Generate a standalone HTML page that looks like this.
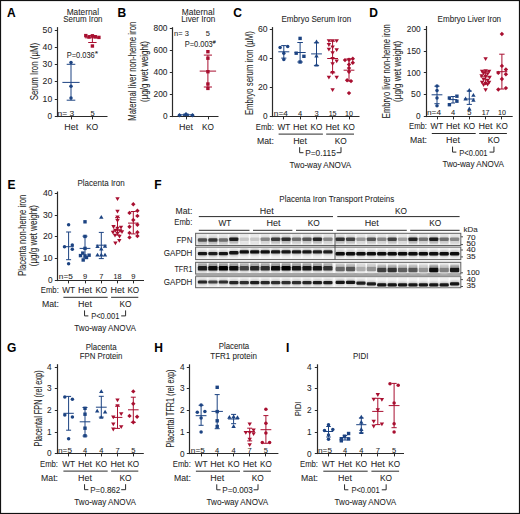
<!DOCTYPE html>
<html><head><meta charset="utf-8"><style>
html,body{margin:0;padding:0;background:#fff;}
svg{display:block;}
text{font-family:"Liberation Sans",sans-serif;font-size:8.5px;fill:#1e1e1e;stroke:#1e1e1e;stroke-width:0.06px;}
</style></head><body>
<svg width="520" height="514" viewBox="0 0 520 514">
<rect x="0.5" y="0.5" width="519" height="513" fill="#fff" stroke="#111" stroke-width="1.2"/>
<text x="7" y="16.7" style="font-weight:bold;font-size:12px;fill:#000;">A</text>
<text x="117.6" y="16.7" style="font-weight:bold;font-size:12px;fill:#000;">B</text>
<text x="233.2" y="17" style="font-weight:bold;font-size:12px;fill:#000;">C</text>
<text x="369.2" y="16.9" style="font-weight:bold;font-size:12px;fill:#000;">D</text>
<text x="7.6" y="188.9" style="font-weight:bold;font-size:12px;fill:#000;">E</text>
<text x="154.3" y="188.8" style="font-weight:bold;font-size:12px;fill:#000;">F</text>
<text x="7" y="352.4" style="font-weight:bold;font-size:12px;fill:#000;">G</text>
<text x="154.2" y="352.3" style="font-weight:bold;font-size:12px;fill:#000;">H</text>
<text x="286" y="352.3" style="font-weight:bold;font-size:12px;fill:#000;">I</text>
<text x="82.9" y="14.6" text-anchor="middle" style="font-size:8.6px;" textLength="32.4" lengthAdjust="spacingAndGlyphs">Maternal</text>
<text x="82.85" y="22.3" text-anchor="middle" style="font-size:8.6px;" textLength="39.3" lengthAdjust="spacingAndGlyphs">Serum Iron</text>
<line x1="57.5" y1="27.1" x2="57.5" y2="117.1" stroke="#2a2a2a" stroke-width="1.2"/>
<line x1="56.9" y1="116.5" x2="107.5" y2="116.5" stroke="#2a2a2a" stroke-width="1.2"/>
<line x1="54.8" y1="116.5" x2="57.5" y2="116.5" stroke="#2a2a2a" stroke-width="1"/>
<text x="52.2" y="118.9" text-anchor="end" style="font-size:8.4px;" textLength="4.6" lengthAdjust="spacingAndGlyphs">0</text>
<line x1="54.8" y1="99.5" x2="57.5" y2="99.5" stroke="#2a2a2a" stroke-width="1"/>
<text x="52.2" y="101.65" text-anchor="end" style="font-size:8.4px;" textLength="9.6" lengthAdjust="spacingAndGlyphs">10</text>
<line x1="54.8" y1="81.5" x2="57.5" y2="81.5" stroke="#2a2a2a" stroke-width="1"/>
<text x="52.2" y="84.4" text-anchor="end" style="font-size:8.4px;" textLength="9.6" lengthAdjust="spacingAndGlyphs">20</text>
<line x1="54.8" y1="64.5" x2="57.5" y2="64.5" stroke="#2a2a2a" stroke-width="1"/>
<text x="52.2" y="67.15" text-anchor="end" style="font-size:8.4px;" textLength="9.6" lengthAdjust="spacingAndGlyphs">30</text>
<line x1="54.8" y1="47.5" x2="57.5" y2="47.5" stroke="#2a2a2a" stroke-width="1"/>
<text x="52.2" y="49.9" text-anchor="end" style="font-size:8.4px;" textLength="9.6" lengthAdjust="spacingAndGlyphs">40</text>
<line x1="54.8" y1="30.5" x2="57.5" y2="30.5" stroke="#2a2a2a" stroke-width="1"/>
<text x="52.2" y="32.65" text-anchor="end" style="font-size:8.4px;" textLength="9.6" lengthAdjust="spacingAndGlyphs">50</text>
<line x1="71.5" y1="116.5" x2="71.5" y2="119.4" stroke="#2a2a2a" stroke-width="1"/>
<line x1="92.5" y1="116.5" x2="92.5" y2="119.4" stroke="#2a2a2a" stroke-width="1"/>
<text transform="translate(37.5,71.6) rotate(-90)" text-anchor="middle" style="font-size:10.2px;" textLength="57.4" lengthAdjust="spacingAndGlyphs">Serum Iron (µM)</text>
<text x="57.6" y="115.6" style="font-size:7.4px;" textLength="16.6" lengthAdjust="spacingAndGlyphs">n= 3</text>
<text x="92.6" y="115.6" text-anchor="middle" style="font-size:7.4px;" textLength="4.2" lengthAdjust="spacingAndGlyphs">5</text>
<text x="71.2" y="129.6" text-anchor="middle" textLength="13.9" lengthAdjust="spacingAndGlyphs">Het</text>
<text x="92.2" y="129.6" text-anchor="middle" textLength="11.9" lengthAdjust="spacingAndGlyphs">KO</text>
<text x="66.7" y="57.7" textLength="28.1" lengthAdjust="spacingAndGlyphs">P=0.036</text>
<text x="94.7" y="56.4" style="font-size:6.5px;" textLength="3.4" lengthAdjust="spacingAndGlyphs">*</text>
<line x1="71" y1="64.3" x2="71" y2="100.2" stroke="#1c4382" stroke-width="1"/>
<line x1="66.7" y1="64.3" x2="75.3" y2="64.3" stroke="#1c4382" stroke-width="1"/>
<line x1="66.7" y1="100.2" x2="75.3" y2="100.2" stroke="#1c4382" stroke-width="1"/>
<line x1="62.4" y1="82.4" x2="79.6" y2="82.4" stroke="#1c4382" stroke-width="1"/>
<circle cx="71" cy="62.6" r="1.75" fill="#1c4382"/>
<circle cx="71" cy="86.2" r="1.75" fill="#1c4382"/>
<circle cx="71" cy="98.1" r="1.75" fill="#1c4382"/>
<line x1="92.4" y1="35.6" x2="92.4" y2="42.5" stroke="#a80f30" stroke-width="1"/>
<line x1="88.2" y1="35.6" x2="96.6" y2="35.6" stroke="#a80f30" stroke-width="1"/>
<line x1="88.2" y1="42.5" x2="96.6" y2="42.5" stroke="#a80f30" stroke-width="1"/>
<line x1="84.9" y1="37.8" x2="99.9" y2="37.8" stroke="#a80f30" stroke-width="1"/>
<rect x="84.1" y="33.9" width="3.4" height="3.4" fill="#a80f30"/>
<rect x="87.3" y="35.3" width="3.4" height="3.4" fill="#a80f30"/>
<rect x="90.7" y="34.1" width="3.4" height="3.4" fill="#a80f30"/>
<rect x="93.7" y="35.1" width="3.4" height="3.4" fill="#a80f30"/>
<rect x="97.2" y="35.7" width="3.4" height="3.4" fill="#a80f30"/>
<rect x="90.7" y="44.3" width="3.4" height="3.4" fill="#a80f30"/>
<text x="198.15" y="14.6" text-anchor="middle" style="font-size:8.6px;" textLength="32.7" lengthAdjust="spacingAndGlyphs">Maternal</text>
<text x="198.25" y="22.3" text-anchor="middle" style="font-size:8.6px;" textLength="33.9" lengthAdjust="spacingAndGlyphs">Liver Iron</text>
<line x1="172.5" y1="27.2" x2="172.5" y2="117.1" stroke="#2a2a2a" stroke-width="1.2"/>
<line x1="171.9" y1="116.5" x2="218.5" y2="116.5" stroke="#2a2a2a" stroke-width="1.2"/>
<line x1="169.8" y1="116.5" x2="172.5" y2="116.5" stroke="#2a2a2a" stroke-width="1"/>
<text x="167.5" y="119" text-anchor="end" style="font-size:8.4px;" textLength="4.6" lengthAdjust="spacingAndGlyphs">0</text>
<line x1="169.8" y1="94.5" x2="172.5" y2="94.5" stroke="#2a2a2a" stroke-width="1"/>
<text x="167.5" y="97.1" text-anchor="end" style="font-size:8.4px;" textLength="13.9" lengthAdjust="spacingAndGlyphs">200</text>
<line x1="169.8" y1="72.5" x2="172.5" y2="72.5" stroke="#2a2a2a" stroke-width="1"/>
<text x="167.5" y="75.2" text-anchor="end" style="font-size:8.4px;" textLength="13.9" lengthAdjust="spacingAndGlyphs">400</text>
<line x1="169.8" y1="50.5" x2="172.5" y2="50.5" stroke="#2a2a2a" stroke-width="1"/>
<text x="167.5" y="53.3" text-anchor="end" style="font-size:8.4px;" textLength="13.9" lengthAdjust="spacingAndGlyphs">600</text>
<line x1="169.8" y1="28.5" x2="172.5" y2="28.5" stroke="#2a2a2a" stroke-width="1"/>
<text x="167.5" y="31.4" text-anchor="end" style="font-size:8.4px;" textLength="13.9" lengthAdjust="spacingAndGlyphs">800</text>
<line x1="186.5" y1="116.5" x2="186.5" y2="119.4" stroke="#2a2a2a" stroke-width="1"/>
<line x1="208.5" y1="116.5" x2="208.5" y2="119.4" stroke="#2a2a2a" stroke-width="1"/>
<text transform="translate(136.1,71.2) rotate(-90)" text-anchor="middle" style="font-size:10.2px;" textLength="99" lengthAdjust="spacingAndGlyphs">Maternal liver non-heme iron</text>
<text transform="translate(147.8,71.6) rotate(-90)" text-anchor="middle" style="font-size:10.2px;" textLength="60.8" lengthAdjust="spacingAndGlyphs">(µg/g wet weight)</text>
<text x="174.1" y="35.9" style="font-size:7.4px;" textLength="14.8" lengthAdjust="spacingAndGlyphs">n= 3</text>
<text x="207.9" y="35.9" text-anchor="middle" style="font-size:7.4px;" textLength="4.2" lengthAdjust="spacingAndGlyphs">5</text>
<text x="184.7" y="46.6" textLength="28" lengthAdjust="spacingAndGlyphs">P=0.003</text>
<text x="212.8" y="43.6" style="font-size:4.6px;" textLength="2.9" lengthAdjust="spacingAndGlyphs">#</text>
<text x="186" y="129.6" text-anchor="middle" textLength="13.9" lengthAdjust="spacingAndGlyphs">Het</text>
<text x="208" y="129.6" text-anchor="middle" textLength="11.9" lengthAdjust="spacingAndGlyphs">KO</text>
<line x1="186" y1="114.2" x2="186" y2="115.4" stroke="#1c4382" stroke-width="1"/>
<line x1="183" y1="114.2" x2="189" y2="114.2" stroke="#1c4382" stroke-width="1"/>
<line x1="183" y1="115.4" x2="189" y2="115.4" stroke="#1c4382" stroke-width="1"/>
<line x1="178" y1="114.8" x2="194" y2="114.8" stroke="#1c4382" stroke-width="1"/>
<path d="M179.5 113L181.7 115.2L179.5 117.4L177.3 115.2Z" fill="#1c4382"/>
<path d="M186 112L188.2 114.2L186 116.4L183.8 114.2Z" fill="#1c4382"/>
<path d="M192.5 113L194.7 115.2L192.5 117.4L190.3 115.2Z" fill="#1c4382"/>
<line x1="207.9" y1="55.1" x2="207.9" y2="87" stroke="#a80f30" stroke-width="1"/>
<line x1="203.8" y1="55.1" x2="212" y2="55.1" stroke="#a80f30" stroke-width="1"/>
<line x1="203.8" y1="87" x2="212" y2="87" stroke="#a80f30" stroke-width="1"/>
<line x1="199.7" y1="71.1" x2="216.1" y2="71.1" stroke="#a80f30" stroke-width="1"/>
<rect x="206.2" y="50" width="3.4" height="3.4" fill="#a80f30"/>
<rect x="206.2" y="56.5" width="3.4" height="3.4" fill="#a80f30"/>
<rect x="206.2" y="70" width="3.4" height="3.4" fill="#a80f30"/>
<rect x="206.2" y="82.3" width="3.4" height="3.4" fill="#a80f30"/>
<rect x="206.2" y="86.7" width="3.4" height="3.4" fill="#a80f30"/>
<text x="316.35" y="22.3" text-anchor="middle" style="font-size:8.6px;" textLength="69.7" lengthAdjust="spacingAndGlyphs">Embryo Serum Iron</text>
<line x1="272.5" y1="27.1" x2="272.5" y2="117.1" stroke="#2a2a2a" stroke-width="1.2"/>
<line x1="271.9" y1="116.5" x2="359.5" y2="116.5" stroke="#2a2a2a" stroke-width="1.2"/>
<line x1="269.8" y1="116.5" x2="272.5" y2="116.5" stroke="#2a2a2a" stroke-width="1"/>
<text x="267.5" y="119.4" text-anchor="end" style="font-size:8.4px;" textLength="4.6" lengthAdjust="spacingAndGlyphs">0</text>
<line x1="269.8" y1="87.5" x2="272.5" y2="87.5" stroke="#2a2a2a" stroke-width="1"/>
<text x="267.5" y="90.33" text-anchor="end" style="font-size:8.4px;" textLength="9.6" lengthAdjust="spacingAndGlyphs">20</text>
<line x1="269.8" y1="58.5" x2="272.5" y2="58.5" stroke="#2a2a2a" stroke-width="1"/>
<text x="267.5" y="61.27" text-anchor="end" style="font-size:8.4px;" textLength="9.6" lengthAdjust="spacingAndGlyphs">40</text>
<line x1="269.8" y1="29.5" x2="272.5" y2="29.5" stroke="#2a2a2a" stroke-width="1"/>
<text x="267.5" y="32.2" text-anchor="end" style="font-size:8.4px;" textLength="9.6" lengthAdjust="spacingAndGlyphs">60</text>
<line x1="283.5" y1="116.5" x2="283.5" y2="119.4" stroke="#2a2a2a" stroke-width="1"/>
<line x1="300.5" y1="116.5" x2="300.5" y2="119.4" stroke="#2a2a2a" stroke-width="1"/>
<line x1="316.5" y1="116.5" x2="316.5" y2="119.4" stroke="#2a2a2a" stroke-width="1"/>
<line x1="332.5" y1="116.5" x2="332.5" y2="119.4" stroke="#2a2a2a" stroke-width="1"/>
<line x1="349.5" y1="116.5" x2="349.5" y2="119.4" stroke="#2a2a2a" stroke-width="1"/>
<text transform="translate(252.7,73.15) rotate(-90)" text-anchor="middle" style="font-size:10.2px;" textLength="83.9" lengthAdjust="spacingAndGlyphs">Embryo serum iron (µM)</text>
<line x1="283.8" y1="45.6" x2="283.8" y2="58.1" stroke="#1c4382" stroke-width="1"/>
<line x1="281.2" y1="45.6" x2="286.4" y2="45.6" stroke="#1c4382" stroke-width="1"/>
<line x1="281.2" y1="58.1" x2="286.4" y2="58.1" stroke="#1c4382" stroke-width="1"/>
<line x1="278.3" y1="51.8" x2="289.3" y2="51.8" stroke="#1c4382" stroke-width="1"/>
<circle cx="280.1" cy="47.6" r="1.75" fill="#1c4382"/>
<circle cx="287.7" cy="46.6" r="1.75" fill="#1c4382"/>
<circle cx="283.8" cy="53.2" r="1.75" fill="#1c4382"/>
<circle cx="283.8" cy="59.5" r="1.75" fill="#1c4382"/>
<line x1="300.1" y1="42.5" x2="300.1" y2="62" stroke="#1c4382" stroke-width="1"/>
<line x1="297.3" y1="42.5" x2="302.9" y2="42.5" stroke="#1c4382" stroke-width="1"/>
<line x1="297.3" y1="62" x2="302.9" y2="62" stroke="#1c4382" stroke-width="1"/>
<line x1="294.5" y1="52.5" x2="305.7" y2="52.5" stroke="#1c4382" stroke-width="1"/>
<rect x="298.4" y="36.7" width="3.4" height="3.4" fill="#1c4382"/>
<rect x="294.5" y="51.5" width="3.4" height="3.4" fill="#1c4382"/>
<rect x="302.2" y="54.6" width="3.4" height="3.4" fill="#1c4382"/>
<rect x="298.4" y="60.3" width="3.4" height="3.4" fill="#1c4382"/>
<line x1="316.5" y1="42.8" x2="316.5" y2="65.4" stroke="#1c4382" stroke-width="1"/>
<line x1="313.9" y1="42.8" x2="319.1" y2="42.8" stroke="#1c4382" stroke-width="1"/>
<line x1="313.9" y1="65.4" x2="319.1" y2="65.4" stroke="#1c4382" stroke-width="1"/>
<line x1="311.1" y1="53.9" x2="321.9" y2="53.9" stroke="#1c4382" stroke-width="1"/>
<path d="M316.5 39.4L318.7 43.18L314.3 43.18Z" fill="#1c4382"/>
<path d="M316.5 53.8L318.7 57.58L314.3 57.58Z" fill="#1c4382"/>
<path d="M316.5 62.8L318.7 66.58L314.3 66.58Z" fill="#1c4382"/>
<line x1="332.6" y1="41.2" x2="332.6" y2="72.8" stroke="#a80f30" stroke-width="1"/>
<line x1="330" y1="41.2" x2="335.2" y2="41.2" stroke="#a80f30" stroke-width="1"/>
<line x1="330" y1="72.8" x2="335.2" y2="72.8" stroke="#a80f30" stroke-width="1"/>
<line x1="327.2" y1="58.5" x2="338" y2="58.5" stroke="#a80f30" stroke-width="1"/>
<path d="M328.9 43L331.11 39.22L326.7 39.22Z" fill="#a80f30"/>
<path d="M332.6 43L334.81 39.22L330.4 39.22Z" fill="#a80f30"/>
<path d="M336.7 43L338.91 39.22L334.5 39.22Z" fill="#a80f30"/>
<path d="M328.9 46.9L331.11 43.12L326.7 43.12Z" fill="#a80f30"/>
<path d="M332.6 49.2L334.81 45.42L330.4 45.42Z" fill="#a80f30"/>
<path d="M328.9 51.6L331.11 47.82L326.7 47.82Z" fill="#a80f30"/>
<path d="M336.7 52L338.91 48.22L334.5 48.22Z" fill="#a80f30"/>
<path d="M332.6 55.1L334.81 51.32L330.4 51.32Z" fill="#a80f30"/>
<path d="M332.6 60.9L334.81 57.12L330.4 57.12Z" fill="#a80f30"/>
<path d="M336.7 63.2L338.91 59.42L334.5 59.42Z" fill="#a80f30"/>
<path d="M332.6 66L334.81 62.22L330.4 62.22Z" fill="#a80f30"/>
<path d="M332.6 74.9L334.81 71.12L330.4 71.12Z" fill="#a80f30"/>
<path d="M328.9 79.6L331.11 75.82L326.7 75.82Z" fill="#a80f30"/>
<path d="M336.7 79.6L338.91 75.82L334.5 75.82Z" fill="#a80f30"/>
<path d="M332.6 92L334.81 88.22L330.4 88.22Z" fill="#a80f30"/>
<line x1="349" y1="58.8" x2="349" y2="81" stroke="#a80f30" stroke-width="1"/>
<line x1="346.4" y1="58.8" x2="351.6" y2="58.8" stroke="#a80f30" stroke-width="1"/>
<line x1="346.4" y1="81" x2="351.6" y2="81" stroke="#a80f30" stroke-width="1"/>
<line x1="343.6" y1="70.2" x2="354.4" y2="70.2" stroke="#a80f30" stroke-width="1"/>
<path d="M345 57.9L347.2 60.1L345 62.3L342.8 60.1Z" fill="#a80f30"/>
<path d="M349 57.6L351.2 59.8L349 62L346.8 59.8Z" fill="#a80f30"/>
<path d="M352.8 56.5L355 58.7L352.8 60.9L350.6 58.7Z" fill="#a80f30"/>
<path d="M352.8 60.6L355 62.8L352.8 65L350.6 62.8Z" fill="#a80f30"/>
<path d="M349 62.3L351.2 64.5L349 66.7L346.8 64.5Z" fill="#a80f30"/>
<path d="M349 65.9L351.2 68.1L349 70.3L346.8 68.1Z" fill="#a80f30"/>
<path d="M349 69.5L351.2 71.7L349 73.9L346.8 71.7Z" fill="#a80f30"/>
<path d="M347.1 78.1L349.3 80.3L347.1 82.5L344.9 80.3Z" fill="#a80f30"/>
<path d="M351 78.9L353.2 81.1L351 83.3L348.8 81.1Z" fill="#a80f30"/>
<path d="M349 90.9L351.2 93.1L349 95.3L346.8 93.1Z" fill="#a80f30"/>
<text x="273.8" y="115.8" style="font-size:7.4px;" textLength="14" lengthAdjust="spacingAndGlyphs">n=4</text>
<text x="300.1" y="115.8" text-anchor="middle" style="font-size:7.4px;" textLength="4.2" lengthAdjust="spacingAndGlyphs">4</text>
<text x="316.5" y="115.8" text-anchor="middle" style="font-size:7.4px;" textLength="4.2" lengthAdjust="spacingAndGlyphs">3</text>
<text x="332.6" y="115.8" text-anchor="middle" style="font-size:7.4px;" textLength="7.9" lengthAdjust="spacingAndGlyphs">15</text>
<text x="349" y="115.8" text-anchor="middle" style="font-size:7.4px;" textLength="7.9" lengthAdjust="spacingAndGlyphs">10</text>
<text x="273.8" y="129.8" text-anchor="end" textLength="18" lengthAdjust="spacingAndGlyphs">Emb:</text>
<text x="283.8" y="129.8" text-anchor="middle" textLength="12.8" lengthAdjust="spacingAndGlyphs">WT</text>
<text x="300.1" y="129.8" text-anchor="middle" textLength="14" lengthAdjust="spacingAndGlyphs">Het</text>
<text x="316.5" y="129.8" text-anchor="middle" textLength="11.8" lengthAdjust="spacingAndGlyphs">KO</text>
<text x="332.6" y="129.8" text-anchor="middle" textLength="14" lengthAdjust="spacingAndGlyphs">Het</text>
<text x="349" y="129.8" text-anchor="middle" textLength="11.8" lengthAdjust="spacingAndGlyphs">KO</text>
<line x1="278.6" y1="134.1" x2="322.9" y2="134.1" stroke="#2a2a2a" stroke-width="1"/>
<line x1="326.2" y1="134.1" x2="354" y2="134.1" stroke="#2a2a2a" stroke-width="1"/>
<text x="273.8" y="143.8" text-anchor="end" textLength="16.9" lengthAdjust="spacingAndGlyphs">Mat:</text>
<text x="300.1" y="143.8" text-anchor="middle" textLength="13.9" lengthAdjust="spacingAndGlyphs">Het</text>
<text x="340.8" y="143.8" text-anchor="middle" textLength="12" lengthAdjust="spacingAndGlyphs">KO</text>
<polyline points="299.65,147.2 299.65,152.7 303.45,152.7" fill="none" stroke="#2a2a2a" stroke-width="1"/>
<polyline points="336.6,152.7 341,152.7 341,147.2" fill="none" stroke="#2a2a2a" stroke-width="1"/>
<text x="320.53" y="156.2" text-anchor="middle" textLength="30.6" lengthAdjust="spacingAndGlyphs">P=0.115</text>
<text x="320.33" y="167.9" text-anchor="middle" textLength="61.6" lengthAdjust="spacingAndGlyphs">Two-way ANOVA</text>
<text x="469.35" y="22.3" text-anchor="middle" style="font-size:8.6px;" textLength="63.5" lengthAdjust="spacingAndGlyphs">Embryo Liver Iron</text>
<line x1="426.5" y1="26" x2="426.5" y2="117.1" stroke="#2a2a2a" stroke-width="1.2"/>
<line x1="425.9" y1="116.5" x2="512.7" y2="116.5" stroke="#2a2a2a" stroke-width="1.2"/>
<line x1="423.8" y1="116.5" x2="426.5" y2="116.5" stroke="#2a2a2a" stroke-width="1"/>
<text x="420.7" y="118.8" text-anchor="end" style="font-size:8.4px;" textLength="4.6" lengthAdjust="spacingAndGlyphs">0</text>
<line x1="423.8" y1="94.5" x2="426.5" y2="94.5" stroke="#2a2a2a" stroke-width="1"/>
<text x="420.7" y="97.17" text-anchor="end" style="font-size:8.4px;" textLength="9.6" lengthAdjust="spacingAndGlyphs">50</text>
<line x1="423.8" y1="72.5" x2="426.5" y2="72.5" stroke="#2a2a2a" stroke-width="1"/>
<text x="420.7" y="75.55" text-anchor="end" style="font-size:8.4px;" textLength="13.9" lengthAdjust="spacingAndGlyphs">100</text>
<line x1="423.8" y1="51.5" x2="426.5" y2="51.5" stroke="#2a2a2a" stroke-width="1"/>
<text x="420.7" y="53.93" text-anchor="end" style="font-size:8.4px;" textLength="13.9" lengthAdjust="spacingAndGlyphs">150</text>
<line x1="423.8" y1="29.5" x2="426.5" y2="29.5" stroke="#2a2a2a" stroke-width="1"/>
<text x="420.7" y="32.3" text-anchor="end" style="font-size:8.4px;" textLength="13.9" lengthAdjust="spacingAndGlyphs">200</text>
<line x1="437.5" y1="116.5" x2="437.5" y2="119.4" stroke="#2a2a2a" stroke-width="1"/>
<line x1="453.5" y1="116.5" x2="453.5" y2="119.4" stroke="#2a2a2a" stroke-width="1"/>
<line x1="469.5" y1="116.5" x2="469.5" y2="119.4" stroke="#2a2a2a" stroke-width="1"/>
<line x1="485.5" y1="116.5" x2="485.5" y2="119.4" stroke="#2a2a2a" stroke-width="1"/>
<line x1="501.5" y1="116.5" x2="501.5" y2="119.4" stroke="#2a2a2a" stroke-width="1"/>
<text transform="translate(389.7,71.2) rotate(-90)" text-anchor="middle" style="font-size:10.2px;" textLength="94" lengthAdjust="spacingAndGlyphs">Embryo liver non-heme iron</text>
<text transform="translate(401.2,71.4) rotate(-90)" text-anchor="middle" style="font-size:10.2px;" textLength="61" lengthAdjust="spacingAndGlyphs">(µg/g wet weight)</text>
<line x1="437" y1="86.2" x2="437" y2="103.7" stroke="#1c4382" stroke-width="1"/>
<line x1="434.4" y1="86.2" x2="439.6" y2="86.2" stroke="#1c4382" stroke-width="1"/>
<line x1="434.4" y1="103.7" x2="439.6" y2="103.7" stroke="#1c4382" stroke-width="1"/>
<line x1="431.6" y1="94.8" x2="442.4" y2="94.8" stroke="#1c4382" stroke-width="1"/>
<circle cx="437" cy="85.9" r="1.75" fill="#1c4382"/>
<circle cx="437" cy="90.5" r="1.75" fill="#1c4382"/>
<circle cx="437" cy="98" r="1.75" fill="#1c4382"/>
<circle cx="437" cy="105.8" r="1.75" fill="#1c4382"/>
<line x1="453" y1="96.5" x2="453" y2="103" stroke="#1c4382" stroke-width="1"/>
<line x1="451" y1="96.5" x2="455" y2="96.5" stroke="#1c4382" stroke-width="1"/>
<line x1="451" y1="103" x2="455" y2="103" stroke="#1c4382" stroke-width="1"/>
<line x1="448.8" y1="99.6" x2="457.2" y2="99.6" stroke="#1c4382" stroke-width="1"/>
<rect x="447.7" y="96.3" width="3.4" height="3.4" fill="#1c4382"/>
<rect x="447.7" y="103" width="3.4" height="3.4" fill="#1c4382"/>
<rect x="455.2" y="94.5" width="3.4" height="3.4" fill="#1c4382"/>
<rect x="455.2" y="99.5" width="3.4" height="3.4" fill="#1c4382"/>
<line x1="469.3" y1="91" x2="469.3" y2="104.4" stroke="#1c4382" stroke-width="1"/>
<line x1="466.7" y1="91" x2="471.9" y2="91" stroke="#1c4382" stroke-width="1"/>
<line x1="466.7" y1="104.4" x2="471.9" y2="104.4" stroke="#1c4382" stroke-width="1"/>
<line x1="463.9" y1="99" x2="474.7" y2="99" stroke="#1c4382" stroke-width="1"/>
<path d="M469.3 87.9L471.5 91.68L467.1 91.68Z" fill="#1c4382"/>
<path d="M473.4 93L475.61 96.78L471.2 96.78Z" fill="#1c4382"/>
<path d="M465.6 96.6L467.81 100.38L463.4 100.38Z" fill="#1c4382"/>
<path d="M473.4 98L475.61 101.78L471.2 101.78Z" fill="#1c4382"/>
<path d="M469.3 106.6L471.5 110.38L467.1 110.38Z" fill="#1c4382"/>
<line x1="485.6" y1="71.3" x2="485.6" y2="84" stroke="#a80f30" stroke-width="1"/>
<line x1="483" y1="71.3" x2="488.2" y2="71.3" stroke="#a80f30" stroke-width="1"/>
<line x1="483" y1="84" x2="488.2" y2="84" stroke="#a80f30" stroke-width="1"/>
<line x1="480.2" y1="76.8" x2="491" y2="76.8" stroke="#a80f30" stroke-width="1"/>
<path d="M485.6 61L487.81 57.22L483.4 57.22Z" fill="#a80f30"/>
<path d="M482.1 73.6L484.31 69.82L479.9 69.82Z" fill="#a80f30"/>
<path d="M485.6 73.1L487.81 69.32L483.4 69.32Z" fill="#a80f30"/>
<path d="M489.1 73.6L491.31 69.82L486.9 69.82Z" fill="#a80f30"/>
<path d="M483.6 75.6L485.81 71.82L481.4 71.82Z" fill="#a80f30"/>
<path d="M487.6 76.1L489.81 72.32L485.4 72.32Z" fill="#a80f30"/>
<path d="M481.6 78.1L483.81 74.32L479.4 74.32Z" fill="#a80f30"/>
<path d="M485.6 78.6L487.81 74.82L483.4 74.82Z" fill="#a80f30"/>
<path d="M489.6 79.6L491.81 75.82L487.4 75.82Z" fill="#a80f30"/>
<path d="M483.6 81.6L485.81 77.82L481.4 77.82Z" fill="#a80f30"/>
<path d="M487.6 82.6L489.81 78.82L485.4 78.82Z" fill="#a80f30"/>
<path d="M482.1 84.6L484.31 80.82L479.9 80.82Z" fill="#a80f30"/>
<path d="M485.6 85.6L487.81 81.82L483.4 81.82Z" fill="#a80f30"/>
<path d="M489.1 84.6L491.31 80.82L486.9 80.82Z" fill="#a80f30"/>
<path d="M483.6 87.1L485.81 83.32L481.4 83.32Z" fill="#a80f30"/>
<path d="M487.6 86.6L489.81 82.82L485.4 82.82Z" fill="#a80f30"/>
<path d="M485.6 92.1L487.81 88.32L483.4 88.32Z" fill="#a80f30"/>
<line x1="501.9" y1="54.2" x2="501.9" y2="89" stroke="#a80f30" stroke-width="1"/>
<line x1="499.2" y1="54.2" x2="504.6" y2="54.2" stroke="#a80f30" stroke-width="1"/>
<line x1="499.2" y1="89" x2="504.6" y2="89" stroke="#a80f30" stroke-width="1"/>
<line x1="496.5" y1="71.7" x2="507.3" y2="71.7" stroke="#a80f30" stroke-width="1"/>
<path d="M501.9 31.8L504.1 34L501.9 36.2L499.7 34Z" fill="#a80f30"/>
<path d="M501.9 63.7L504.1 65.9L501.9 68.1L499.7 65.9Z" fill="#a80f30"/>
<path d="M505.9 67.3L508.1 69.5L505.9 71.7L503.7 69.5Z" fill="#a80f30"/>
<path d="M498.3 70.7L500.5 72.9L498.3 75.1L496.1 72.9Z" fill="#a80f30"/>
<path d="M505.9 72.1L508.1 74.3L505.9 76.5L503.7 74.3Z" fill="#a80f30"/>
<path d="M501.9 76.8L504.1 79L501.9 81.2L499.7 79Z" fill="#a80f30"/>
<path d="M498.3 87.3L500.5 89.5L498.3 91.7L496.1 89.5Z" fill="#a80f30"/>
<path d="M505.9 85.9L508.1 88.1L505.9 90.3L503.7 88.1Z" fill="#a80f30"/>
<text x="427" y="115.2" style="font-size:7.4px;" textLength="14" lengthAdjust="spacingAndGlyphs">n=4</text>
<text x="453" y="115.2" text-anchor="middle" style="font-size:7.4px;" textLength="4.2" lengthAdjust="spacingAndGlyphs">4</text>
<text x="469.3" y="115.2" text-anchor="middle" style="font-size:7.4px;" textLength="4.2" lengthAdjust="spacingAndGlyphs">5</text>
<text x="485.6" y="115.2" text-anchor="middle" style="font-size:7.4px;" textLength="7.9" lengthAdjust="spacingAndGlyphs">17</text>
<text x="501.9" y="115.2" text-anchor="middle" style="font-size:7.4px;" textLength="7.9" lengthAdjust="spacingAndGlyphs">10</text>
<text x="427" y="129.2" text-anchor="end" textLength="18" lengthAdjust="spacingAndGlyphs">Emb:</text>
<text x="437" y="129.2" text-anchor="middle" textLength="12.8" lengthAdjust="spacingAndGlyphs">WT</text>
<text x="453" y="129.2" text-anchor="middle" textLength="14" lengthAdjust="spacingAndGlyphs">Het</text>
<text x="469.3" y="129.2" text-anchor="middle" textLength="11.8" lengthAdjust="spacingAndGlyphs">KO</text>
<text x="485.6" y="129.2" text-anchor="middle" textLength="14" lengthAdjust="spacingAndGlyphs">Het</text>
<text x="501.9" y="129.2" text-anchor="middle" textLength="11.8" lengthAdjust="spacingAndGlyphs">KO</text>
<line x1="431.8" y1="133.5" x2="475.7" y2="133.5" stroke="#2a2a2a" stroke-width="1"/>
<line x1="479.2" y1="133.5" x2="506.9" y2="133.5" stroke="#2a2a2a" stroke-width="1"/>
<text x="427" y="143.2" text-anchor="end" textLength="16.9" lengthAdjust="spacingAndGlyphs">Mat:</text>
<text x="453" y="143.2" text-anchor="middle" textLength="13.9" lengthAdjust="spacingAndGlyphs">Het</text>
<text x="493.75" y="143.2" text-anchor="middle" textLength="12" lengthAdjust="spacingAndGlyphs">KO</text>
<polyline points="452.55,146.6 452.55,152.1 456.35,152.1" fill="none" stroke="#2a2a2a" stroke-width="1"/>
<polyline points="489.55,152.1 493.95,152.1 493.95,146.6" fill="none" stroke="#2a2a2a" stroke-width="1"/>
<text x="473.45" y="155.6" text-anchor="middle" textLength="28.2" lengthAdjust="spacingAndGlyphs">P&lt;0.001</text>
<text x="473.25" y="167.3" text-anchor="middle" textLength="61.6" lengthAdjust="spacingAndGlyphs">Two-way ANOVA</text>
<text x="101.1" y="185.6" text-anchor="middle" style="font-size:8.6px;" textLength="47.2" lengthAdjust="spacingAndGlyphs">Placenta Iron</text>
<line x1="57.5" y1="191.5" x2="57.5" y2="281.1" stroke="#2a2a2a" stroke-width="1.2"/>
<line x1="56.9" y1="280.5" x2="144" y2="280.5" stroke="#2a2a2a" stroke-width="1.2"/>
<line x1="54.8" y1="280.5" x2="57.5" y2="280.5" stroke="#2a2a2a" stroke-width="1"/>
<text x="52.5" y="282.6" text-anchor="end" style="font-size:8.4px;" textLength="4.6" lengthAdjust="spacingAndGlyphs">0</text>
<line x1="54.8" y1="258.5" x2="57.5" y2="258.5" stroke="#2a2a2a" stroke-width="1"/>
<text x="52.5" y="260.98" text-anchor="end" style="font-size:8.4px;" textLength="9.6" lengthAdjust="spacingAndGlyphs">10</text>
<line x1="54.8" y1="236.5" x2="57.5" y2="236.5" stroke="#2a2a2a" stroke-width="1"/>
<text x="52.5" y="239.35" text-anchor="end" style="font-size:8.4px;" textLength="9.6" lengthAdjust="spacingAndGlyphs">20</text>
<line x1="54.8" y1="215.5" x2="57.5" y2="215.5" stroke="#2a2a2a" stroke-width="1"/>
<text x="52.5" y="217.72" text-anchor="end" style="font-size:8.4px;" textLength="9.6" lengthAdjust="spacingAndGlyphs">30</text>
<line x1="54.8" y1="193.5" x2="57.5" y2="193.5" stroke="#2a2a2a" stroke-width="1"/>
<text x="52.5" y="196.1" text-anchor="end" style="font-size:8.4px;" textLength="9.6" lengthAdjust="spacingAndGlyphs">40</text>
<line x1="68.5" y1="280.5" x2="68.5" y2="283.4" stroke="#2a2a2a" stroke-width="1"/>
<line x1="85.5" y1="280.5" x2="85.5" y2="283.4" stroke="#2a2a2a" stroke-width="1"/>
<line x1="101.5" y1="280.5" x2="101.5" y2="283.4" stroke="#2a2a2a" stroke-width="1"/>
<line x1="117.5" y1="280.5" x2="117.5" y2="283.4" stroke="#2a2a2a" stroke-width="1"/>
<line x1="133.5" y1="280.5" x2="133.5" y2="283.4" stroke="#2a2a2a" stroke-width="1"/>
<text transform="translate(26,235.3) rotate(-90)" text-anchor="middle" style="font-size:10.2px;" textLength="81" lengthAdjust="spacingAndGlyphs">Placenta non-heme iron</text>
<text transform="translate(37.3,235.65) rotate(-90)" text-anchor="middle" style="font-size:10.2px;" textLength="61.3" lengthAdjust="spacingAndGlyphs">(µg/g wet weight)</text>
<line x1="68.6" y1="232" x2="68.6" y2="259.7" stroke="#1c4382" stroke-width="1"/>
<line x1="66.1" y1="232" x2="71.1" y2="232" stroke="#1c4382" stroke-width="1"/>
<line x1="66.1" y1="259.7" x2="71.1" y2="259.7" stroke="#1c4382" stroke-width="1"/>
<line x1="63.4" y1="246.7" x2="73.8" y2="246.7" stroke="#1c4382" stroke-width="1"/>
<circle cx="68.6" cy="224.8" r="1.75" fill="#1c4382"/>
<circle cx="64.5" cy="246.7" r="1.75" fill="#1c4382"/>
<circle cx="72.3" cy="245" r="1.75" fill="#1c4382"/>
<circle cx="72.3" cy="249.3" r="1.75" fill="#1c4382"/>
<circle cx="68.6" cy="263.8" r="1.75" fill="#1c4382"/>
<line x1="85" y1="236.2" x2="85" y2="258" stroke="#1c4382" stroke-width="1"/>
<line x1="82.5" y1="236.2" x2="87.5" y2="236.2" stroke="#1c4382" stroke-width="1"/>
<line x1="82.5" y1="258" x2="87.5" y2="258" stroke="#1c4382" stroke-width="1"/>
<line x1="79.6" y1="248.4" x2="90.4" y2="248.4" stroke="#1c4382" stroke-width="1"/>
<rect x="83.3" y="220.1" width="3.4" height="3.4" fill="#1c4382"/>
<rect x="83.3" y="234.7" width="3.4" height="3.4" fill="#1c4382"/>
<rect x="83.3" y="246.7" width="3.4" height="3.4" fill="#1c4382"/>
<rect x="81.1" y="251.4" width="3.4" height="3.4" fill="#1c4382"/>
<rect x="78.8" y="253.9" width="3.4" height="3.4" fill="#1c4382"/>
<rect x="87.4" y="253.5" width="3.4" height="3.4" fill="#1c4382"/>
<rect x="83.3" y="254.2" width="3.4" height="3.4" fill="#1c4382"/>
<rect x="81.5" y="258.3" width="3.4" height="3.4" fill="#1c4382"/>
<rect x="84.8" y="255.8" width="3.4" height="3.4" fill="#1c4382"/>
<line x1="101.3" y1="232.4" x2="101.3" y2="258.6" stroke="#1c4382" stroke-width="1"/>
<line x1="98.8" y1="232.4" x2="103.8" y2="232.4" stroke="#1c4382" stroke-width="1"/>
<line x1="98.8" y1="258.6" x2="103.8" y2="258.6" stroke="#1c4382" stroke-width="1"/>
<line x1="95.9" y1="245.2" x2="106.7" y2="245.2" stroke="#1c4382" stroke-width="1"/>
<path d="M101.3 214.9L103.5 218.68L99.09 218.68Z" fill="#1c4382"/>
<path d="M97.5 244.2L99.7 247.98L95.3 247.98Z" fill="#1c4382"/>
<path d="M105 243.9L107.2 247.68L102.8 247.68Z" fill="#1c4382"/>
<path d="M101.3 246.7L103.5 250.48L99.09 250.48Z" fill="#1c4382"/>
<path d="M97.5 252.7L99.7 256.48L95.3 256.48Z" fill="#1c4382"/>
<path d="M101.3 252.7L103.5 256.48L99.09 256.48Z" fill="#1c4382"/>
<path d="M105 252.7L107.2 256.48L102.8 256.48Z" fill="#1c4382"/>
<line x1="117.5" y1="217.7" x2="117.5" y2="235" stroke="#a80f30" stroke-width="1"/>
<line x1="115" y1="217.7" x2="120" y2="217.7" stroke="#a80f30" stroke-width="1"/>
<line x1="115" y1="235" x2="120" y2="235" stroke="#a80f30" stroke-width="1"/>
<line x1="112.8" y1="230.2" x2="122.2" y2="230.2" stroke="#a80f30" stroke-width="1"/>
<path d="M117.5 201L119.7 197.22L115.3 197.22Z" fill="#a80f30"/>
<path d="M117.5 213.6L119.7 209.82L115.3 209.82Z" fill="#a80f30"/>
<path d="M117.5 219.3L119.7 215.52L115.3 215.52Z" fill="#a80f30"/>
<path d="M117.5 222.8L119.7 219.02L115.3 219.02Z" fill="#a80f30"/>
<path d="M113.5 228.9L115.7 225.12L111.3 225.12Z" fill="#a80f30"/>
<path d="M121 229.6L123.2 225.82L118.8 225.82Z" fill="#a80f30"/>
<path d="M117.5 230.6L119.7 226.82L115.3 226.82Z" fill="#a80f30"/>
<path d="M115.5 232.6L117.7 228.82L113.3 228.82Z" fill="#a80f30"/>
<path d="M120 233.1L122.2 229.32L117.8 229.32Z" fill="#a80f30"/>
<path d="M113 234.6L115.2 230.82L110.8 230.82Z" fill="#a80f30"/>
<path d="M122 234.1L124.2 230.32L119.8 230.32Z" fill="#a80f30"/>
<path d="M117.5 235.6L119.7 231.82L115.3 231.82Z" fill="#a80f30"/>
<path d="M115 237.6L117.2 233.82L112.8 233.82Z" fill="#a80f30"/>
<path d="M119.5 238.6L121.7 234.82L117.3 234.82Z" fill="#a80f30"/>
<path d="M115.4 245.2L117.61 241.42L113.2 241.42Z" fill="#a80f30"/>
<path d="M119.3 242.8L121.5 239.02L117.09 239.02Z" fill="#a80f30"/>
<line x1="133.3" y1="211.5" x2="133.3" y2="233.9" stroke="#a80f30" stroke-width="1"/>
<line x1="130.8" y1="211.5" x2="135.8" y2="211.5" stroke="#a80f30" stroke-width="1"/>
<line x1="130.8" y1="233.9" x2="135.8" y2="233.9" stroke="#a80f30" stroke-width="1"/>
<line x1="128" y1="223.1" x2="138.6" y2="223.1" stroke="#a80f30" stroke-width="1"/>
<path d="M133.3 202.1L135.5 204.3L133.3 206.5L131.1 204.3Z" fill="#a80f30"/>
<path d="M137.4 208.5L139.6 210.7L137.4 212.9L135.2 210.7Z" fill="#a80f30"/>
<path d="M129.5 210.7L131.7 212.9L129.5 215.1L127.3 212.9Z" fill="#a80f30"/>
<path d="M137.4 213.7L139.6 215.9L137.4 218.1L135.2 215.9Z" fill="#a80f30"/>
<path d="M133.3 217.8L135.5 220L133.3 222.2L131.1 220Z" fill="#a80f30"/>
<path d="M137.4 222.5L139.6 224.7L137.4 226.9L135.2 224.7Z" fill="#a80f30"/>
<path d="M129.5 224.6L131.7 226.8L129.5 229L127.3 226.8Z" fill="#a80f30"/>
<path d="M129.5 230.7L131.7 232.9L129.5 235.1L127.3 232.9Z" fill="#a80f30"/>
<path d="M137.4 230L139.6 232.2L137.4 234.4L135.2 232.2Z" fill="#a80f30"/>
<path d="M137.4 233.8L139.6 236L137.4 238.2L135.2 236Z" fill="#a80f30"/>
<path d="M129.5 235.2L131.7 237.4L129.5 239.6L127.3 237.4Z" fill="#a80f30"/>
<text x="58.8" y="279" style="font-size:7.4px;" textLength="14" lengthAdjust="spacingAndGlyphs">n=5</text>
<text x="85" y="279" text-anchor="middle" style="font-size:7.4px;" textLength="4.2" lengthAdjust="spacingAndGlyphs">9</text>
<text x="101.3" y="279" text-anchor="middle" style="font-size:7.4px;" textLength="4.2" lengthAdjust="spacingAndGlyphs">7</text>
<text x="117.5" y="279" text-anchor="middle" style="font-size:7.4px;" textLength="7.9" lengthAdjust="spacingAndGlyphs">18</text>
<text x="133.3" y="279" text-anchor="middle" style="font-size:7.4px;" textLength="4.2" lengthAdjust="spacingAndGlyphs">9</text>
<text x="58.8" y="293" text-anchor="end" textLength="18" lengthAdjust="spacingAndGlyphs">Emb:</text>
<text x="68.6" y="293" text-anchor="middle" textLength="12.8" lengthAdjust="spacingAndGlyphs">WT</text>
<text x="85" y="293" text-anchor="middle" textLength="14" lengthAdjust="spacingAndGlyphs">Het</text>
<text x="101.3" y="293" text-anchor="middle" textLength="11.8" lengthAdjust="spacingAndGlyphs">KO</text>
<text x="117.5" y="293" text-anchor="middle" textLength="14" lengthAdjust="spacingAndGlyphs">Het</text>
<text x="133.3" y="293" text-anchor="middle" textLength="11.8" lengthAdjust="spacingAndGlyphs">KO</text>
<line x1="63.4" y1="297.3" x2="107.7" y2="297.3" stroke="#2a2a2a" stroke-width="1"/>
<line x1="111.1" y1="297.3" x2="138.3" y2="297.3" stroke="#2a2a2a" stroke-width="1"/>
<text x="58.8" y="307" text-anchor="end" textLength="16.9" lengthAdjust="spacingAndGlyphs">Mat:</text>
<text x="85" y="307" text-anchor="middle" textLength="13.9" lengthAdjust="spacingAndGlyphs">Het</text>
<text x="125.4" y="307" text-anchor="middle" textLength="12" lengthAdjust="spacingAndGlyphs">KO</text>
<polyline points="84.55,310.4 84.55,315.9 88.35,315.9" fill="none" stroke="#2a2a2a" stroke-width="1"/>
<polyline points="121.2,315.9 125.6,315.9 125.6,310.4" fill="none" stroke="#2a2a2a" stroke-width="1"/>
<text x="105.28" y="319.4" text-anchor="middle" textLength="28.2" lengthAdjust="spacingAndGlyphs">P&lt;0.001</text>
<text x="105.08" y="331.1" text-anchor="middle" textLength="61.6" lengthAdjust="spacingAndGlyphs">Two-way ANOVA</text>
<text x="101.2" y="349.5" text-anchor="middle" style="font-size:8.6px;" textLength="30.8" lengthAdjust="spacingAndGlyphs">Placenta</text>
<text x="101.1" y="359" text-anchor="middle" style="font-size:8.6px;" textLength="42.6" lengthAdjust="spacingAndGlyphs">FPN Protein</text>
<line x1="57.5" y1="364.2" x2="57.5" y2="454.1" stroke="#2a2a2a" stroke-width="1.2"/>
<line x1="56.9" y1="453.5" x2="143.8" y2="453.5" stroke="#2a2a2a" stroke-width="1.2"/>
<line x1="54.8" y1="453.5" x2="57.5" y2="453.5" stroke="#2a2a2a" stroke-width="1"/>
<text x="51.7" y="456.4" text-anchor="end" style="font-size:8.4px;" textLength="4.6" lengthAdjust="spacingAndGlyphs">0</text>
<line x1="54.8" y1="432.5" x2="57.5" y2="432.5" stroke="#2a2a2a" stroke-width="1"/>
<text x="51.7" y="434.75" text-anchor="end" style="font-size:8.4px;" textLength="4.6" lengthAdjust="spacingAndGlyphs">1</text>
<line x1="54.8" y1="410.5" x2="57.5" y2="410.5" stroke="#2a2a2a" stroke-width="1"/>
<text x="51.7" y="413.1" text-anchor="end" style="font-size:8.4px;" textLength="4.6" lengthAdjust="spacingAndGlyphs">2</text>
<line x1="54.8" y1="388.5" x2="57.5" y2="388.5" stroke="#2a2a2a" stroke-width="1"/>
<text x="51.7" y="391.45" text-anchor="end" style="font-size:8.4px;" textLength="4.6" lengthAdjust="spacingAndGlyphs">3</text>
<line x1="54.8" y1="367.5" x2="57.5" y2="367.5" stroke="#2a2a2a" stroke-width="1"/>
<text x="51.7" y="369.8" text-anchor="end" style="font-size:8.4px;" textLength="4.6" lengthAdjust="spacingAndGlyphs">4</text>
<line x1="68.5" y1="453.5" x2="68.5" y2="456.4" stroke="#2a2a2a" stroke-width="1"/>
<line x1="85.5" y1="453.5" x2="85.5" y2="456.4" stroke="#2a2a2a" stroke-width="1"/>
<line x1="101.5" y1="453.5" x2="101.5" y2="456.4" stroke="#2a2a2a" stroke-width="1"/>
<line x1="117.5" y1="453.5" x2="117.5" y2="456.4" stroke="#2a2a2a" stroke-width="1"/>
<line x1="133.5" y1="453.5" x2="133.5" y2="456.4" stroke="#2a2a2a" stroke-width="1"/>
<text transform="translate(42.3,408.45) rotate(-90)" text-anchor="middle" style="font-size:10.2px;" textLength="76.1" lengthAdjust="spacingAndGlyphs">Placental FPN (rel exp)</text>
<line x1="68.6" y1="396.4" x2="68.6" y2="430.2" stroke="#1c4382" stroke-width="1"/>
<line x1="66.1" y1="396.4" x2="71.1" y2="396.4" stroke="#1c4382" stroke-width="1"/>
<line x1="66.1" y1="430.2" x2="71.1" y2="430.2" stroke="#1c4382" stroke-width="1"/>
<line x1="63.4" y1="413.3" x2="73.8" y2="413.3" stroke="#1c4382" stroke-width="1"/>
<circle cx="64.8" cy="397" r="1.75" fill="#1c4382"/>
<circle cx="72.4" cy="399.3" r="1.75" fill="#1c4382"/>
<circle cx="64.8" cy="415.1" r="1.75" fill="#1c4382"/>
<circle cx="72.4" cy="417.1" r="1.75" fill="#1c4382"/>
<circle cx="68.6" cy="438.7" r="1.75" fill="#1c4382"/>
<line x1="85" y1="407.5" x2="85" y2="436" stroke="#1c4382" stroke-width="1"/>
<line x1="82.5" y1="407.5" x2="87.5" y2="407.5" stroke="#1c4382" stroke-width="1"/>
<line x1="82.5" y1="436" x2="87.5" y2="436" stroke="#1c4382" stroke-width="1"/>
<line x1="79.7" y1="421.8" x2="90.3" y2="421.8" stroke="#1c4382" stroke-width="1"/>
<rect x="83.3" y="406.6" width="3.4" height="3.4" fill="#1c4382"/>
<rect x="83.3" y="412.5" width="3.4" height="3.4" fill="#1c4382"/>
<rect x="83.3" y="426.5" width="3.4" height="3.4" fill="#1c4382"/>
<rect x="83.3" y="434.1" width="3.4" height="3.4" fill="#1c4382"/>
<line x1="101.3" y1="396.3" x2="101.3" y2="417.1" stroke="#1c4382" stroke-width="1"/>
<line x1="98.8" y1="396.3" x2="103.8" y2="396.3" stroke="#1c4382" stroke-width="1"/>
<line x1="98.8" y1="417.1" x2="103.8" y2="417.1" stroke="#1c4382" stroke-width="1"/>
<line x1="95.9" y1="407.2" x2="106.7" y2="407.2" stroke="#1c4382" stroke-width="1"/>
<path d="M101.3 389.3L103.5 393.08L99.09 393.08Z" fill="#1c4382"/>
<path d="M97.2 408.8L99.41 412.58L95 412.58Z" fill="#1c4382"/>
<path d="M105.1 409.8L107.3 413.58L102.89 413.58Z" fill="#1c4382"/>
<path d="M101.3 415L103.5 418.78L99.09 418.78Z" fill="#1c4382"/>
<line x1="117.5" y1="406.2" x2="117.5" y2="428.4" stroke="#a80f30" stroke-width="1"/>
<line x1="115" y1="406.2" x2="120" y2="406.2" stroke="#a80f30" stroke-width="1"/>
<line x1="115" y1="428.4" x2="120" y2="428.4" stroke="#a80f30" stroke-width="1"/>
<line x1="112.6" y1="417.4" x2="122.4" y2="417.4" stroke="#a80f30" stroke-width="1"/>
<path d="M117.5 402.3L119.7 398.52L115.3 398.52Z" fill="#a80f30"/>
<path d="M117.5 408.1L119.7 404.32L115.3 404.32Z" fill="#a80f30"/>
<path d="M121.2 416L123.41 412.22L119 412.22Z" fill="#a80f30"/>
<path d="M113.3 419.2L115.5 415.42L111.09 415.42Z" fill="#a80f30"/>
<path d="M113.3 426.2L115.5 422.42L111.09 422.42Z" fill="#a80f30"/>
<path d="M121.2 429.1L123.41 425.32L119 425.32Z" fill="#a80f30"/>
<path d="M113.3 431.4L115.5 427.62L111.09 427.62Z" fill="#a80f30"/>
<line x1="133.3" y1="397.2" x2="133.3" y2="422.3" stroke="#a80f30" stroke-width="1"/>
<line x1="130.8" y1="397.2" x2="135.8" y2="397.2" stroke="#a80f30" stroke-width="1"/>
<line x1="130.8" y1="422.3" x2="135.8" y2="422.3" stroke="#a80f30" stroke-width="1"/>
<line x1="128" y1="409.8" x2="138.6" y2="409.8" stroke="#a80f30" stroke-width="1"/>
<path d="M133.3 389.2L135.5 391.4L133.3 393.6L131.1 391.4Z" fill="#a80f30"/>
<path d="M133.3 401.5L135.5 403.7L133.3 405.9L131.1 403.7Z" fill="#a80f30"/>
<path d="M129.5 413.7L131.7 415.9L129.5 418.1L127.3 415.9Z" fill="#a80f30"/>
<path d="M137.1 414.5L139.3 416.7L137.1 418.9L134.9 416.7Z" fill="#a80f30"/>
<path d="M133.3 420.1L135.5 422.3L133.3 424.5L131.1 422.3Z" fill="#a80f30"/>
<text x="58" y="452.8" style="font-size:7.4px;" textLength="14" lengthAdjust="spacingAndGlyphs">n=5</text>
<text x="85" y="452.8" text-anchor="middle" style="font-size:7.4px;" textLength="4.2" lengthAdjust="spacingAndGlyphs">4</text>
<text x="101.3" y="452.8" text-anchor="middle" style="font-size:7.4px;" textLength="4.2" lengthAdjust="spacingAndGlyphs">4</text>
<text x="117.5" y="452.8" text-anchor="middle" style="font-size:7.4px;" textLength="4.2" lengthAdjust="spacingAndGlyphs">7</text>
<text x="133.3" y="452.8" text-anchor="middle" style="font-size:7.4px;" textLength="4.2" lengthAdjust="spacingAndGlyphs">5</text>
<text x="58" y="466.8" text-anchor="end" textLength="18" lengthAdjust="spacingAndGlyphs">Emb:</text>
<text x="68.6" y="466.8" text-anchor="middle" textLength="12.8" lengthAdjust="spacingAndGlyphs">WT</text>
<text x="85" y="466.8" text-anchor="middle" textLength="14" lengthAdjust="spacingAndGlyphs">Het</text>
<text x="101.3" y="466.8" text-anchor="middle" textLength="11.8" lengthAdjust="spacingAndGlyphs">KO</text>
<text x="117.5" y="466.8" text-anchor="middle" textLength="14" lengthAdjust="spacingAndGlyphs">Het</text>
<text x="133.3" y="466.8" text-anchor="middle" textLength="11.8" lengthAdjust="spacingAndGlyphs">KO</text>
<line x1="63.4" y1="471.1" x2="107.7" y2="471.1" stroke="#2a2a2a" stroke-width="1"/>
<line x1="111.1" y1="471.1" x2="138.3" y2="471.1" stroke="#2a2a2a" stroke-width="1"/>
<text x="58" y="480.8" text-anchor="end" textLength="16.9" lengthAdjust="spacingAndGlyphs">Mat:</text>
<text x="85" y="480.8" text-anchor="middle" textLength="13.9" lengthAdjust="spacingAndGlyphs">Het</text>
<text x="125.4" y="480.8" text-anchor="middle" textLength="12" lengthAdjust="spacingAndGlyphs">KO</text>
<polyline points="84.55,484.2 84.55,489.7 88.35,489.7" fill="none" stroke="#2a2a2a" stroke-width="1"/>
<polyline points="121.2,489.7 125.6,489.7 125.6,484.2" fill="none" stroke="#2a2a2a" stroke-width="1"/>
<text x="105.28" y="493.2" text-anchor="middle" textLength="30" lengthAdjust="spacingAndGlyphs">P=0.862</text>
<text x="105.08" y="504.9" text-anchor="middle" textLength="61.6" lengthAdjust="spacingAndGlyphs">Two-way ANOVA</text>
<text x="233.95" y="349.3" text-anchor="middle" style="font-size:8.6px;" textLength="30.5" lengthAdjust="spacingAndGlyphs">Placenta</text>
<text x="233.6" y="358.7" text-anchor="middle" style="font-size:8.6px;" textLength="46.7" lengthAdjust="spacingAndGlyphs">TFR1 protein</text>
<line x1="189.5" y1="364.3" x2="189.5" y2="454.1" stroke="#2a2a2a" stroke-width="1.2"/>
<line x1="188.9" y1="453.5" x2="278.4" y2="453.5" stroke="#2a2a2a" stroke-width="1.2"/>
<line x1="186.8" y1="453.5" x2="189.5" y2="453.5" stroke="#2a2a2a" stroke-width="1"/>
<text x="184.5" y="456.5" text-anchor="end" style="font-size:8.4px;" textLength="4.6" lengthAdjust="spacingAndGlyphs">0</text>
<line x1="186.8" y1="432.5" x2="189.5" y2="432.5" stroke="#2a2a2a" stroke-width="1"/>
<text x="184.5" y="434.82" text-anchor="end" style="font-size:8.4px;" textLength="4.6" lengthAdjust="spacingAndGlyphs">1</text>
<line x1="186.8" y1="410.5" x2="189.5" y2="410.5" stroke="#2a2a2a" stroke-width="1"/>
<text x="184.5" y="413.15" text-anchor="end" style="font-size:8.4px;" textLength="4.6" lengthAdjust="spacingAndGlyphs">2</text>
<line x1="186.8" y1="388.5" x2="189.5" y2="388.5" stroke="#2a2a2a" stroke-width="1"/>
<text x="184.5" y="391.48" text-anchor="end" style="font-size:8.4px;" textLength="4.6" lengthAdjust="spacingAndGlyphs">3</text>
<line x1="186.8" y1="367.5" x2="189.5" y2="367.5" stroke="#2a2a2a" stroke-width="1"/>
<text x="184.5" y="369.8" text-anchor="end" style="font-size:8.4px;" textLength="4.6" lengthAdjust="spacingAndGlyphs">4</text>
<line x1="201.5" y1="453.5" x2="201.5" y2="456.4" stroke="#2a2a2a" stroke-width="1"/>
<line x1="217.5" y1="453.5" x2="217.5" y2="456.4" stroke="#2a2a2a" stroke-width="1"/>
<line x1="233.5" y1="453.5" x2="233.5" y2="456.4" stroke="#2a2a2a" stroke-width="1"/>
<line x1="249.5" y1="453.5" x2="249.5" y2="456.4" stroke="#2a2a2a" stroke-width="1"/>
<line x1="265.5" y1="453.5" x2="265.5" y2="456.4" stroke="#2a2a2a" stroke-width="1"/>
<text transform="translate(174.3,408.55) rotate(-90)" text-anchor="middle" style="font-size:10.2px;" textLength="77.9" lengthAdjust="spacingAndGlyphs">Placental TFR1 (rel exp)</text>
<line x1="201.1" y1="405.3" x2="201.1" y2="425.3" stroke="#1c4382" stroke-width="1"/>
<line x1="198.6" y1="405.3" x2="203.6" y2="405.3" stroke="#1c4382" stroke-width="1"/>
<line x1="198.6" y1="425.3" x2="203.6" y2="425.3" stroke="#1c4382" stroke-width="1"/>
<line x1="195.7" y1="415.7" x2="206.5" y2="415.7" stroke="#1c4382" stroke-width="1"/>
<circle cx="201.1" cy="405.1" r="1.75" fill="#1c4382"/>
<circle cx="197.3" cy="412.3" r="1.75" fill="#1c4382"/>
<circle cx="204.9" cy="411.4" r="1.75" fill="#1c4382"/>
<circle cx="201.1" cy="418" r="1.75" fill="#1c4382"/>
<circle cx="201.1" cy="431.9" r="1.75" fill="#1c4382"/>
<line x1="217.2" y1="394.6" x2="217.2" y2="428.7" stroke="#1c4382" stroke-width="1"/>
<line x1="214.7" y1="394.6" x2="219.7" y2="394.6" stroke="#1c4382" stroke-width="1"/>
<line x1="214.7" y1="428.7" x2="219.7" y2="428.7" stroke="#1c4382" stroke-width="1"/>
<line x1="211.5" y1="411.4" x2="222.9" y2="411.4" stroke="#1c4382" stroke-width="1"/>
<rect x="215.5" y="385.6" width="3.4" height="3.4" fill="#1c4382"/>
<rect x="215.5" y="409.9" width="3.4" height="3.4" fill="#1c4382"/>
<rect x="215.5" y="419.1" width="3.4" height="3.4" fill="#1c4382"/>
<rect x="215.5" y="424.8" width="3.4" height="3.4" fill="#1c4382"/>
<line x1="233.6" y1="414.4" x2="233.6" y2="423.7" stroke="#1c4382" stroke-width="1"/>
<line x1="231.1" y1="414.4" x2="236.1" y2="414.4" stroke="#1c4382" stroke-width="1"/>
<line x1="231.1" y1="423.7" x2="236.1" y2="423.7" stroke="#1c4382" stroke-width="1"/>
<line x1="228.1" y1="419" x2="239.1" y2="419" stroke="#1c4382" stroke-width="1"/>
<path d="M229.4 414.9L231.61 418.68L227.19 418.68Z" fill="#1c4382"/>
<path d="M233.6 414.4L235.81 418.18L231.39 418.18Z" fill="#1c4382"/>
<path d="M237.5 415.2L239.71 418.98L235.29 418.98Z" fill="#1c4382"/>
<path d="M233.6 424.1L235.81 427.88L231.39 427.88Z" fill="#1c4382"/>
<line x1="249.7" y1="428.2" x2="249.7" y2="440.9" stroke="#a80f30" stroke-width="1"/>
<line x1="247.2" y1="428.2" x2="252.2" y2="428.2" stroke="#a80f30" stroke-width="1"/>
<line x1="247.2" y1="440.9" x2="252.2" y2="440.9" stroke="#a80f30" stroke-width="1"/>
<line x1="244.4" y1="431.6" x2="255" y2="431.6" stroke="#a80f30" stroke-width="1"/>
<path d="M249.7 426.2L251.91 422.42L247.49 422.42Z" fill="#a80f30"/>
<path d="M253.6 432.3L255.81 428.52L251.39 428.52Z" fill="#a80f30"/>
<path d="M245.8 434.7L248 430.92L243.59 430.92Z" fill="#a80f30"/>
<path d="M249.7 434.7L251.91 430.92L247.49 430.92Z" fill="#a80f30"/>
<path d="M253.6 436.1L255.81 432.32L251.39 432.32Z" fill="#a80f30"/>
<path d="M249.7 441.5L251.91 437.72L247.49 437.72Z" fill="#a80f30"/>
<path d="M249.7 447L251.91 443.22L247.49 443.22Z" fill="#a80f30"/>
<line x1="265.9" y1="415.6" x2="265.9" y2="443.3" stroke="#a80f30" stroke-width="1"/>
<line x1="263.4" y1="415.6" x2="268.4" y2="415.6" stroke="#a80f30" stroke-width="1"/>
<line x1="263.4" y1="443.3" x2="268.4" y2="443.3" stroke="#a80f30" stroke-width="1"/>
<line x1="260.5" y1="429.7" x2="271.3" y2="429.7" stroke="#a80f30" stroke-width="1"/>
<circle cx="265.9" cy="409.2" r="1.75" fill="#a80f30"/>
<circle cx="265.9" cy="423.2" r="1.75" fill="#a80f30"/>
<circle cx="265.9" cy="433.1" r="1.75" fill="#a80f30"/>
<circle cx="262.3" cy="442.6" r="1.75" fill="#a80f30"/>
<circle cx="269.6" cy="442.6" r="1.75" fill="#a80f30"/>
<text x="190.8" y="452.9" style="font-size:7.4px;" textLength="14" lengthAdjust="spacingAndGlyphs">n=5</text>
<text x="217.2" y="452.9" text-anchor="middle" style="font-size:7.4px;" textLength="4.2" lengthAdjust="spacingAndGlyphs">4</text>
<text x="233.6" y="452.9" text-anchor="middle" style="font-size:7.4px;" textLength="4.2" lengthAdjust="spacingAndGlyphs">4</text>
<text x="249.7" y="452.9" text-anchor="middle" style="font-size:7.4px;" textLength="4.2" lengthAdjust="spacingAndGlyphs">7</text>
<text x="265.9" y="452.9" text-anchor="middle" style="font-size:7.4px;" textLength="4.2" lengthAdjust="spacingAndGlyphs">5</text>
<text x="190.8" y="466.9" text-anchor="end" textLength="18" lengthAdjust="spacingAndGlyphs">Emb:</text>
<text x="201.1" y="466.9" text-anchor="middle" textLength="12.8" lengthAdjust="spacingAndGlyphs">WT</text>
<text x="217.2" y="466.9" text-anchor="middle" textLength="14" lengthAdjust="spacingAndGlyphs">Het</text>
<text x="233.6" y="466.9" text-anchor="middle" textLength="11.8" lengthAdjust="spacingAndGlyphs">KO</text>
<text x="249.7" y="466.9" text-anchor="middle" textLength="14" lengthAdjust="spacingAndGlyphs">Het</text>
<text x="265.9" y="466.9" text-anchor="middle" textLength="11.8" lengthAdjust="spacingAndGlyphs">KO</text>
<line x1="195.9" y1="471.2" x2="240" y2="471.2" stroke="#2a2a2a" stroke-width="1"/>
<line x1="243.3" y1="471.2" x2="270.9" y2="471.2" stroke="#2a2a2a" stroke-width="1"/>
<text x="190.8" y="480.9" text-anchor="end" textLength="16.9" lengthAdjust="spacingAndGlyphs">Mat:</text>
<text x="217.2" y="480.9" text-anchor="middle" textLength="13.9" lengthAdjust="spacingAndGlyphs">Het</text>
<text x="257.8" y="480.9" text-anchor="middle" textLength="12" lengthAdjust="spacingAndGlyphs">KO</text>
<polyline points="216.75,484.3 216.75,489.8 220.55,489.8" fill="none" stroke="#2a2a2a" stroke-width="1"/>
<polyline points="253.6,489.8 258,489.8 258,484.3" fill="none" stroke="#2a2a2a" stroke-width="1"/>
<text x="237.57" y="493.3" text-anchor="middle" textLength="30.6" lengthAdjust="spacingAndGlyphs">P=0.003</text>
<text x="237.37" y="505" text-anchor="middle" textLength="61.6" lengthAdjust="spacingAndGlyphs">Two-way ANOVA</text>
<text x="360.75" y="358.8" text-anchor="middle" style="font-size:8.6px;" textLength="15.4" lengthAdjust="spacingAndGlyphs">PIDI</text>
<line x1="317.5" y1="364.3" x2="317.5" y2="454.1" stroke="#2a2a2a" stroke-width="1.2"/>
<line x1="316.9" y1="453.5" x2="404" y2="453.5" stroke="#2a2a2a" stroke-width="1.2"/>
<line x1="314.8" y1="453.5" x2="317.5" y2="453.5" stroke="#2a2a2a" stroke-width="1"/>
<text x="311.7" y="456.5" text-anchor="end" style="font-size:8.4px;" textLength="4.6" lengthAdjust="spacingAndGlyphs">0</text>
<line x1="314.8" y1="432.5" x2="317.5" y2="432.5" stroke="#2a2a2a" stroke-width="1"/>
<text x="311.7" y="434.82" text-anchor="end" style="font-size:8.4px;" textLength="4.6" lengthAdjust="spacingAndGlyphs">1</text>
<line x1="314.8" y1="410.5" x2="317.5" y2="410.5" stroke="#2a2a2a" stroke-width="1"/>
<text x="311.7" y="413.15" text-anchor="end" style="font-size:8.4px;" textLength="4.6" lengthAdjust="spacingAndGlyphs">2</text>
<line x1="314.8" y1="388.5" x2="317.5" y2="388.5" stroke="#2a2a2a" stroke-width="1"/>
<text x="311.7" y="391.48" text-anchor="end" style="font-size:8.4px;" textLength="4.6" lengthAdjust="spacingAndGlyphs">3</text>
<line x1="314.8" y1="367.5" x2="317.5" y2="367.5" stroke="#2a2a2a" stroke-width="1"/>
<text x="311.7" y="369.8" text-anchor="end" style="font-size:8.4px;" textLength="4.6" lengthAdjust="spacingAndGlyphs">4</text>
<line x1="328.5" y1="453.5" x2="328.5" y2="456.4" stroke="#2a2a2a" stroke-width="1"/>
<line x1="345.5" y1="453.5" x2="345.5" y2="456.4" stroke="#2a2a2a" stroke-width="1"/>
<line x1="361.5" y1="453.5" x2="361.5" y2="456.4" stroke="#2a2a2a" stroke-width="1"/>
<line x1="377.5" y1="453.5" x2="377.5" y2="456.4" stroke="#2a2a2a" stroke-width="1"/>
<line x1="394.5" y1="453.5" x2="394.5" y2="456.4" stroke="#2a2a2a" stroke-width="1"/>
<text transform="translate(300.8,408.9) rotate(-90)" text-anchor="middle" style="font-size:8.9px;" textLength="14.2" lengthAdjust="spacingAndGlyphs">PIDI</text>
<line x1="328.5" y1="426.5" x2="328.5" y2="437" stroke="#1c4382" stroke-width="1"/>
<line x1="326.2" y1="426.5" x2="330.8" y2="426.5" stroke="#1c4382" stroke-width="1"/>
<line x1="326.2" y1="437" x2="330.8" y2="437" stroke="#1c4382" stroke-width="1"/>
<line x1="323.8" y1="431.5" x2="333.2" y2="431.5" stroke="#1c4382" stroke-width="1"/>
<circle cx="328.5" cy="424.7" r="1.75" fill="#1c4382"/>
<circle cx="324.5" cy="430.6" r="1.75" fill="#1c4382"/>
<circle cx="332.8" cy="429.6" r="1.75" fill="#1c4382"/>
<circle cx="328.5" cy="435" r="1.75" fill="#1c4382"/>
<circle cx="328.5" cy="439.3" r="1.75" fill="#1c4382"/>
<line x1="345" y1="435.5" x2="345" y2="440" stroke="#1c4382" stroke-width="1"/>
<line x1="342.8" y1="435.5" x2="347.2" y2="435.5" stroke="#1c4382" stroke-width="1"/>
<line x1="342.8" y1="440" x2="347.2" y2="440" stroke="#1c4382" stroke-width="1"/>
<line x1="340.5" y1="437.8" x2="349.5" y2="437.8" stroke="#1c4382" stroke-width="1"/>
<rect x="346.9" y="431.8" width="3.4" height="3.4" fill="#1c4382"/>
<rect x="342.8" y="434.5" width="3.4" height="3.4" fill="#1c4382"/>
<rect x="339.6" y="437" width="3.4" height="3.4" fill="#1c4382"/>
<rect x="346.9" y="437.3" width="3.4" height="3.4" fill="#1c4382"/>
<rect x="339.6" y="439.1" width="3.4" height="3.4" fill="#1c4382"/>
<line x1="361.3" y1="418" x2="361.3" y2="432.9" stroke="#1c4382" stroke-width="1"/>
<line x1="358.9" y1="418" x2="363.7" y2="418" stroke="#1c4382" stroke-width="1"/>
<line x1="358.9" y1="432.9" x2="363.7" y2="432.9" stroke="#1c4382" stroke-width="1"/>
<line x1="356.2" y1="424.7" x2="366.4" y2="424.7" stroke="#1c4382" stroke-width="1"/>
<path d="M361.3 414.7L363.5 418.48L359.1 418.48Z" fill="#1c4382"/>
<path d="M361.3 420L363.5 423.78L359.1 423.78Z" fill="#1c4382"/>
<path d="M361.3 427.1L363.5 430.88L359.1 430.88Z" fill="#1c4382"/>
<path d="M361.3 430.2L363.5 433.98L359.1 433.98Z" fill="#1c4382"/>
<line x1="377.8" y1="398.3" x2="377.8" y2="424.6" stroke="#a80f30" stroke-width="1"/>
<line x1="375.2" y1="398.3" x2="380.4" y2="398.3" stroke="#a80f30" stroke-width="1"/>
<line x1="375.2" y1="424.6" x2="380.4" y2="424.6" stroke="#a80f30" stroke-width="1"/>
<line x1="372.2" y1="411.4" x2="383.4" y2="411.4" stroke="#a80f30" stroke-width="1"/>
<path d="M377.8 396.9L380 393.12L375.6 393.12Z" fill="#a80f30"/>
<path d="M373.7 401.6L375.9 397.82L371.5 397.82Z" fill="#a80f30"/>
<path d="M381.9 401.8L384.11 398.02L379.7 398.02Z" fill="#a80f30"/>
<path d="M377.8 412.1L380 408.32L375.6 408.32Z" fill="#a80f30"/>
<path d="M373.7 423.5L375.9 419.72L371.5 419.72Z" fill="#a80f30"/>
<path d="M373.7 428.4L375.9 424.62L371.5 424.62Z" fill="#a80f30"/>
<path d="M381.9 426.3L384.11 422.52L379.7 422.52Z" fill="#a80f30"/>
<line x1="394.1" y1="383.4" x2="394.1" y2="427.7" stroke="#a80f30" stroke-width="1"/>
<line x1="391.5" y1="383.4" x2="396.7" y2="383.4" stroke="#a80f30" stroke-width="1"/>
<line x1="391.5" y1="427.7" x2="396.7" y2="427.7" stroke="#a80f30" stroke-width="1"/>
<line x1="388.7" y1="405.6" x2="399.5" y2="405.6" stroke="#a80f30" stroke-width="1"/>
<circle cx="390" cy="383.7" r="1.75" fill="#a80f30"/>
<circle cx="398.2" cy="385.3" r="1.75" fill="#a80f30"/>
<circle cx="394.1" cy="403" r="1.75" fill="#a80f30"/>
<circle cx="394.1" cy="423.7" r="1.75" fill="#a80f30"/>
<circle cx="394.1" cy="432.1" r="1.75" fill="#a80f30"/>
<text x="318" y="452.9" style="font-size:7.4px;" textLength="14" lengthAdjust="spacingAndGlyphs">n=5</text>
<text x="345" y="452.9" text-anchor="middle" style="font-size:7.4px;" textLength="4.2" lengthAdjust="spacingAndGlyphs">4</text>
<text x="361.3" y="452.9" text-anchor="middle" style="font-size:7.4px;" textLength="4.2" lengthAdjust="spacingAndGlyphs">4</text>
<text x="377.8" y="452.9" text-anchor="middle" style="font-size:7.4px;" textLength="4.2" lengthAdjust="spacingAndGlyphs">7</text>
<text x="394.1" y="452.9" text-anchor="middle" style="font-size:7.4px;" textLength="4.2" lengthAdjust="spacingAndGlyphs">5</text>
<text x="318" y="466.9" text-anchor="end" textLength="18" lengthAdjust="spacingAndGlyphs">Emb:</text>
<text x="328.5" y="466.9" text-anchor="middle" textLength="12.8" lengthAdjust="spacingAndGlyphs">WT</text>
<text x="345" y="466.9" text-anchor="middle" textLength="14" lengthAdjust="spacingAndGlyphs">Het</text>
<text x="361.3" y="466.9" text-anchor="middle" textLength="11.8" lengthAdjust="spacingAndGlyphs">KO</text>
<text x="377.8" y="466.9" text-anchor="middle" textLength="14" lengthAdjust="spacingAndGlyphs">Het</text>
<text x="394.1" y="466.9" text-anchor="middle" textLength="11.8" lengthAdjust="spacingAndGlyphs">KO</text>
<line x1="323.3" y1="471.2" x2="367.7" y2="471.2" stroke="#2a2a2a" stroke-width="1"/>
<line x1="371.4" y1="471.2" x2="399.1" y2="471.2" stroke="#2a2a2a" stroke-width="1"/>
<text x="318" y="480.9" text-anchor="end" textLength="16.9" lengthAdjust="spacingAndGlyphs">Mat:</text>
<text x="345" y="480.9" text-anchor="middle" textLength="13.9" lengthAdjust="spacingAndGlyphs">Het</text>
<text x="385.95" y="480.9" text-anchor="middle" textLength="12" lengthAdjust="spacingAndGlyphs">KO</text>
<polyline points="344.55,484.3 344.55,489.8 348.35,489.8" fill="none" stroke="#2a2a2a" stroke-width="1"/>
<polyline points="381.75,489.8 386.15,489.8 386.15,484.3" fill="none" stroke="#2a2a2a" stroke-width="1"/>
<text x="365.55" y="493.3" text-anchor="middle" textLength="28.2" lengthAdjust="spacingAndGlyphs">P&lt;0.001</text>
<text x="365.35" y="505" text-anchor="middle" textLength="61.6" lengthAdjust="spacingAndGlyphs">Two-way ANOVA</text>
<text x="336.8" y="202.1" text-anchor="middle" style="font-size:8.6px;" textLength="115" lengthAdjust="spacingAndGlyphs">Placenta Iron Transport Proteins</text>
<text x="192.4" y="213.6" text-anchor="end" textLength="16.8" lengthAdjust="spacingAndGlyphs">Mat:</text>
<text x="192.3" y="225.3" text-anchor="end" textLength="18" lengthAdjust="spacingAndGlyphs">Emb:</text>
<line x1="198.8" y1="216.6" x2="333" y2="216.6" stroke="#2a2a2a" stroke-width="1"/>
<line x1="337.3" y1="216.6" x2="459.6" y2="216.6" stroke="#2a2a2a" stroke-width="1"/>
<text x="266.7" y="213.9" text-anchor="middle" textLength="13.9" lengthAdjust="spacingAndGlyphs">Het</text>
<text x="401" y="213.9" text-anchor="middle" textLength="12" lengthAdjust="spacingAndGlyphs">KO</text>
<line x1="198.8" y1="230.3" x2="249.5" y2="230.3" stroke="#2a2a2a" stroke-width="1"/>
<line x1="253" y1="230.3" x2="292.4" y2="230.3" stroke="#2a2a2a" stroke-width="1"/>
<line x1="296" y1="230.3" x2="333" y2="230.3" stroke="#2a2a2a" stroke-width="1"/>
<line x1="336.7" y1="230.3" x2="406.8" y2="230.3" stroke="#2a2a2a" stroke-width="1"/>
<line x1="410.2" y1="230.3" x2="459.6" y2="230.3" stroke="#2a2a2a" stroke-width="1"/>
<text x="225" y="225.7" text-anchor="middle" textLength="12.8" lengthAdjust="spacingAndGlyphs">WT</text>
<text x="273.5" y="225.7" text-anchor="middle" textLength="14" lengthAdjust="spacingAndGlyphs">Het</text>
<text x="313.8" y="225.7" text-anchor="middle" textLength="12" lengthAdjust="spacingAndGlyphs">KO</text>
<text x="371.7" y="225.7" text-anchor="middle" textLength="14" lengthAdjust="spacingAndGlyphs">Het</text>
<text x="435.3" y="225.7" text-anchor="middle" textLength="12" lengthAdjust="spacingAndGlyphs">KO</text>
<text x="192.4" y="243.1" text-anchor="end" style="font-size:8.3px;" textLength="15.9" lengthAdjust="spacingAndGlyphs">FPN</text>
<text x="192.4" y="256.4" text-anchor="end" style="font-size:8.3px;" textLength="28.6" lengthAdjust="spacingAndGlyphs">GAPDH</text>
<text x="192.4" y="271.8" text-anchor="end" style="font-size:8.3px;" textLength="18" lengthAdjust="spacingAndGlyphs">TFR1</text>
<text x="192.4" y="285.3" text-anchor="end" style="font-size:8.3px;" textLength="28.6" lengthAdjust="spacingAndGlyphs">GAPDH</text>
<defs><filter id="bl" x="-30%" y="-80%" width="160%" height="260%"><feGaussianBlur stdDeviation="0.6"/></filter><filter id="bl2" x="-30%" y="-80%" width="160%" height="260%"><feGaussianBlur stdDeviation="1.0"/></filter><filter id="bl3" x="-30%" y="-80%" width="160%" height="260%"><feGaussianBlur stdDeviation="0.72"/></filter><linearGradient id="gu" x1="0" y1="0" x2="0" y2="1"><stop offset="0" stop-color="#000" stop-opacity="0"/><stop offset="1" stop-color="#000" stop-opacity="1"/></linearGradient><linearGradient id="gd" x1="0" y1="0" x2="0" y2="1"><stop offset="0" stop-color="#000" stop-opacity="1"/><stop offset="1" stop-color="#000" stop-opacity="0"/></linearGradient></defs>
<rect x="195.6" y="233.3" width="265.2" height="12.2" fill="#e9e9e9" stroke="#606060" stroke-width="1"/>
<rect x="206.92" y="234.5" width="1.6" height="9.8" fill="#fdfdfd" filter="url(#bl)"/>
<rect x="217.38" y="234.5" width="1.6" height="9.8" fill="#fdfdfd" filter="url(#bl)"/>
<rect x="227.82" y="234.5" width="1.6" height="9.8" fill="#fdfdfd" filter="url(#bl)"/>
<rect x="238.27" y="234.5" width="1.6" height="9.8" fill="#fdfdfd" filter="url(#bl)"/>
<rect x="248.72" y="234.5" width="1.6" height="9.8" fill="#fdfdfd" filter="url(#bl)"/>
<rect x="259.18" y="234.5" width="1.6" height="9.8" fill="#fdfdfd" filter="url(#bl)"/>
<rect x="269.62" y="234.5" width="1.6" height="9.8" fill="#fdfdfd" filter="url(#bl)"/>
<rect x="280.07" y="234.5" width="1.6" height="9.8" fill="#fdfdfd" filter="url(#bl)"/>
<rect x="290.53" y="234.5" width="1.6" height="9.8" fill="#fdfdfd" filter="url(#bl)"/>
<rect x="300.97" y="234.5" width="1.6" height="9.8" fill="#fdfdfd" filter="url(#bl)"/>
<rect x="311.43" y="234.5" width="1.6" height="9.8" fill="#fdfdfd" filter="url(#bl)"/>
<rect x="321.87" y="234.5" width="1.6" height="9.8" fill="#fdfdfd" filter="url(#bl)"/>
<rect x="333.25" y="234.5" width="1.6" height="9.8" fill="#fdfdfd" filter="url(#bl)"/>
<rect x="344.6" y="234.5" width="1.6" height="9.8" fill="#fdfdfd" filter="url(#bl)"/>
<rect x="355" y="234.5" width="1.6" height="9.8" fill="#fdfdfd" filter="url(#bl)"/>
<rect x="365.4" y="234.5" width="1.6" height="9.8" fill="#fdfdfd" filter="url(#bl)"/>
<rect x="375.8" y="234.5" width="1.6" height="9.8" fill="#fdfdfd" filter="url(#bl)"/>
<rect x="386.2" y="234.5" width="1.6" height="9.8" fill="#fdfdfd" filter="url(#bl)"/>
<rect x="396.6" y="234.5" width="1.6" height="9.8" fill="#fdfdfd" filter="url(#bl)"/>
<rect x="407" y="234.5" width="1.6" height="9.8" fill="#fdfdfd" filter="url(#bl)"/>
<rect x="417.4" y="234.5" width="1.6" height="9.8" fill="#fdfdfd" filter="url(#bl)"/>
<rect x="427.8" y="234.5" width="1.6" height="9.8" fill="#fdfdfd" filter="url(#bl)"/>
<rect x="438.2" y="234.5" width="1.6" height="9.8" fill="#fdfdfd" filter="url(#bl)"/>
<rect x="448.6" y="234.5" width="1.6" height="9.8" fill="#fdfdfd" filter="url(#bl)"/>
<rect x="195.6" y="247.1" width="265.2" height="12.5" fill="#f1f1f1" stroke="#606060" stroke-width="1"/>
<rect x="206.92" y="248.3" width="1.6" height="10.1" fill="#fdfdfd" filter="url(#bl)"/>
<rect x="217.38" y="248.3" width="1.6" height="10.1" fill="#fdfdfd" filter="url(#bl)"/>
<rect x="227.82" y="248.3" width="1.6" height="10.1" fill="#fdfdfd" filter="url(#bl)"/>
<rect x="238.27" y="248.3" width="1.6" height="10.1" fill="#fdfdfd" filter="url(#bl)"/>
<rect x="248.72" y="248.3" width="1.6" height="10.1" fill="#fdfdfd" filter="url(#bl)"/>
<rect x="259.18" y="248.3" width="1.6" height="10.1" fill="#fdfdfd" filter="url(#bl)"/>
<rect x="269.62" y="248.3" width="1.6" height="10.1" fill="#fdfdfd" filter="url(#bl)"/>
<rect x="280.07" y="248.3" width="1.6" height="10.1" fill="#fdfdfd" filter="url(#bl)"/>
<rect x="290.53" y="248.3" width="1.6" height="10.1" fill="#fdfdfd" filter="url(#bl)"/>
<rect x="300.97" y="248.3" width="1.6" height="10.1" fill="#fdfdfd" filter="url(#bl)"/>
<rect x="311.43" y="248.3" width="1.6" height="10.1" fill="#fdfdfd" filter="url(#bl)"/>
<rect x="321.87" y="248.3" width="1.6" height="10.1" fill="#fdfdfd" filter="url(#bl)"/>
<rect x="333.25" y="248.3" width="1.6" height="10.1" fill="#fdfdfd" filter="url(#bl)"/>
<rect x="344.6" y="248.3" width="1.6" height="10.1" fill="#fdfdfd" filter="url(#bl)"/>
<rect x="355" y="248.3" width="1.6" height="10.1" fill="#fdfdfd" filter="url(#bl)"/>
<rect x="365.4" y="248.3" width="1.6" height="10.1" fill="#fdfdfd" filter="url(#bl)"/>
<rect x="375.8" y="248.3" width="1.6" height="10.1" fill="#fdfdfd" filter="url(#bl)"/>
<rect x="386.2" y="248.3" width="1.6" height="10.1" fill="#fdfdfd" filter="url(#bl)"/>
<rect x="396.6" y="248.3" width="1.6" height="10.1" fill="#fdfdfd" filter="url(#bl)"/>
<rect x="407" y="248.3" width="1.6" height="10.1" fill="#fdfdfd" filter="url(#bl)"/>
<rect x="417.4" y="248.3" width="1.6" height="10.1" fill="#fdfdfd" filter="url(#bl)"/>
<rect x="427.8" y="248.3" width="1.6" height="10.1" fill="#fdfdfd" filter="url(#bl)"/>
<rect x="438.2" y="248.3" width="1.6" height="10.1" fill="#fdfdfd" filter="url(#bl)"/>
<rect x="448.6" y="248.3" width="1.6" height="10.1" fill="#fdfdfd" filter="url(#bl)"/>
<rect x="195.6" y="262.3" width="265.2" height="11.7" fill="#ececec" stroke="#606060" stroke-width="1"/>
<rect x="206.92" y="263.5" width="1.6" height="9.3" fill="#fdfdfd" filter="url(#bl)"/>
<rect x="217.38" y="263.5" width="1.6" height="9.3" fill="#fdfdfd" filter="url(#bl)"/>
<rect x="227.82" y="263.5" width="1.6" height="9.3" fill="#fdfdfd" filter="url(#bl)"/>
<rect x="238.27" y="263.5" width="1.6" height="9.3" fill="#fdfdfd" filter="url(#bl)"/>
<rect x="248.72" y="263.5" width="1.6" height="9.3" fill="#fdfdfd" filter="url(#bl)"/>
<rect x="259.18" y="263.5" width="1.6" height="9.3" fill="#fdfdfd" filter="url(#bl)"/>
<rect x="269.62" y="263.5" width="1.6" height="9.3" fill="#fdfdfd" filter="url(#bl)"/>
<rect x="280.07" y="263.5" width="1.6" height="9.3" fill="#fdfdfd" filter="url(#bl)"/>
<rect x="290.53" y="263.5" width="1.6" height="9.3" fill="#fdfdfd" filter="url(#bl)"/>
<rect x="300.97" y="263.5" width="1.6" height="9.3" fill="#fdfdfd" filter="url(#bl)"/>
<rect x="311.43" y="263.5" width="1.6" height="9.3" fill="#fdfdfd" filter="url(#bl)"/>
<rect x="321.87" y="263.5" width="1.6" height="9.3" fill="#fdfdfd" filter="url(#bl)"/>
<rect x="333.25" y="263.5" width="1.6" height="9.3" fill="#fdfdfd" filter="url(#bl)"/>
<rect x="344.6" y="263.5" width="1.6" height="9.3" fill="#fdfdfd" filter="url(#bl)"/>
<rect x="355" y="263.5" width="1.6" height="9.3" fill="#fdfdfd" filter="url(#bl)"/>
<rect x="365.4" y="263.5" width="1.6" height="9.3" fill="#fdfdfd" filter="url(#bl)"/>
<rect x="375.8" y="263.5" width="1.6" height="9.3" fill="#fdfdfd" filter="url(#bl)"/>
<rect x="386.2" y="263.5" width="1.6" height="9.3" fill="#fdfdfd" filter="url(#bl)"/>
<rect x="396.6" y="263.5" width="1.6" height="9.3" fill="#fdfdfd" filter="url(#bl)"/>
<rect x="407" y="263.5" width="1.6" height="9.3" fill="#fdfdfd" filter="url(#bl)"/>
<rect x="417.4" y="263.5" width="1.6" height="9.3" fill="#fdfdfd" filter="url(#bl)"/>
<rect x="427.8" y="263.5" width="1.6" height="9.3" fill="#fdfdfd" filter="url(#bl)"/>
<rect x="438.2" y="263.5" width="1.6" height="9.3" fill="#fdfdfd" filter="url(#bl)"/>
<rect x="448.6" y="263.5" width="1.6" height="9.3" fill="#fdfdfd" filter="url(#bl)"/>
<rect x="195.6" y="276.6" width="265.2" height="11.1" fill="#f1f1f1" stroke="#606060" stroke-width="1"/>
<rect x="206.92" y="277.8" width="1.6" height="8.7" fill="#fdfdfd" filter="url(#bl)"/>
<rect x="217.38" y="277.8" width="1.6" height="8.7" fill="#fdfdfd" filter="url(#bl)"/>
<rect x="227.82" y="277.8" width="1.6" height="8.7" fill="#fdfdfd" filter="url(#bl)"/>
<rect x="238.27" y="277.8" width="1.6" height="8.7" fill="#fdfdfd" filter="url(#bl)"/>
<rect x="248.72" y="277.8" width="1.6" height="8.7" fill="#fdfdfd" filter="url(#bl)"/>
<rect x="259.18" y="277.8" width="1.6" height="8.7" fill="#fdfdfd" filter="url(#bl)"/>
<rect x="269.62" y="277.8" width="1.6" height="8.7" fill="#fdfdfd" filter="url(#bl)"/>
<rect x="280.07" y="277.8" width="1.6" height="8.7" fill="#fdfdfd" filter="url(#bl)"/>
<rect x="290.53" y="277.8" width="1.6" height="8.7" fill="#fdfdfd" filter="url(#bl)"/>
<rect x="300.97" y="277.8" width="1.6" height="8.7" fill="#fdfdfd" filter="url(#bl)"/>
<rect x="311.43" y="277.8" width="1.6" height="8.7" fill="#fdfdfd" filter="url(#bl)"/>
<rect x="321.87" y="277.8" width="1.6" height="8.7" fill="#fdfdfd" filter="url(#bl)"/>
<rect x="333.25" y="277.8" width="1.6" height="8.7" fill="#fdfdfd" filter="url(#bl)"/>
<rect x="344.6" y="277.8" width="1.6" height="8.7" fill="#fdfdfd" filter="url(#bl)"/>
<rect x="355" y="277.8" width="1.6" height="8.7" fill="#fdfdfd" filter="url(#bl)"/>
<rect x="365.4" y="277.8" width="1.6" height="8.7" fill="#fdfdfd" filter="url(#bl)"/>
<rect x="375.8" y="277.8" width="1.6" height="8.7" fill="#fdfdfd" filter="url(#bl)"/>
<rect x="386.2" y="277.8" width="1.6" height="8.7" fill="#fdfdfd" filter="url(#bl)"/>
<rect x="396.6" y="277.8" width="1.6" height="8.7" fill="#fdfdfd" filter="url(#bl)"/>
<rect x="407" y="277.8" width="1.6" height="8.7" fill="#fdfdfd" filter="url(#bl)"/>
<rect x="417.4" y="277.8" width="1.6" height="8.7" fill="#fdfdfd" filter="url(#bl)"/>
<rect x="427.8" y="277.8" width="1.6" height="8.7" fill="#fdfdfd" filter="url(#bl)"/>
<rect x="438.2" y="277.8" width="1.6" height="8.7" fill="#fdfdfd" filter="url(#bl)"/>
<rect x="448.6" y="277.8" width="1.6" height="8.7" fill="#fdfdfd" filter="url(#bl)"/>
<rect x="195.6" y="274.0" width="265.2" height="2.6" fill="#a4a4a4"/>
<rect x="198.15" y="241.3" width="8.7" height="4" fill="url(#gd)" fill-opacity="0.31" filter="url(#bl)"/>
<rect x="197.85" y="237" width="9.3" height="6" rx="2" fill="#cacaca" filter="url(#bl2)"/>
<rect x="197.85" y="238.2" width="9.3" height="3.6" rx="1.2" fill="#4f4f4f" filter="url(#bl3)"/>
<rect x="197.85" y="250.7" width="9.3" height="5.8" rx="2" fill="#bababa" filter="url(#bl2)"/>
<rect x="197.85" y="251.9" width="9.3" height="3.4" rx="1.2" fill="#191919" filter="url(#bl)"/>
<rect x="198.15" y="262.3" width="8.7" height="4.2" fill="url(#gu)" fill-opacity="0.66" filter="url(#bl)"/>
<rect x="197.85" y="264.8" width="9.3" height="7" rx="2" fill="#bcbcbc" filter="url(#bl2)"/>
<rect x="197.85" y="266" width="9.3" height="4.6" rx="1.2" fill="#1f1f1f" filter="url(#bl)"/>
<rect x="197.85" y="279.2" width="9.3" height="5.6" rx="2" fill="#bebebe" filter="url(#bl2)"/>
<rect x="197.85" y="280.4" width="9.3" height="3.2" rx="1.2" fill="#262626" filter="url(#bl)"/>
<rect x="208.6" y="241.3" width="8.7" height="4" fill="url(#gd)" fill-opacity="0.36" filter="url(#bl)"/>
<rect x="208.3" y="237" width="9.3" height="6" rx="2" fill="#c3c3c3" filter="url(#bl2)"/>
<rect x="208.3" y="238.2" width="9.3" height="3.6" rx="1.2" fill="#363636" filter="url(#bl3)"/>
<rect x="208.3" y="250.7" width="9.3" height="5.8" rx="2" fill="#bcbcbc" filter="url(#bl2)"/>
<rect x="208.3" y="251.9" width="9.3" height="3.4" rx="1.2" fill="#1f1f1f" filter="url(#bl)"/>
<rect x="208.6" y="262.3" width="8.7" height="4.2" fill="url(#gu)" fill-opacity="0.73" filter="url(#bl)"/>
<rect x="208.3" y="264.8" width="9.3" height="7" rx="2" fill="#b5b5b5" filter="url(#bl2)"/>
<rect x="208.3" y="266" width="9.3" height="4.6" rx="1.2" fill="#080808" filter="url(#bl)"/>
<rect x="208.3" y="279.2" width="9.3" height="5.6" rx="2" fill="#c6c6c6" filter="url(#bl2)"/>
<rect x="208.3" y="280.4" width="9.3" height="3.2" rx="1.2" fill="#404040" filter="url(#bl)"/>
<rect x="219.05" y="241.3" width="8.7" height="4" fill="url(#gd)" fill-opacity="0.26" filter="url(#bl)"/>
<rect x="218.75" y="237" width="9.3" height="6" rx="2" fill="#d3d3d3" filter="url(#bl2)"/>
<rect x="218.75" y="238.2" width="9.3" height="3.6" rx="1.2" fill="#6e6e6e" filter="url(#bl3)"/>
<rect x="218.75" y="250.7" width="9.3" height="5.8" rx="2" fill="#bababa" filter="url(#bl2)"/>
<rect x="218.75" y="251.9" width="9.3" height="3.4" rx="1.2" fill="#191919" filter="url(#bl)"/>
<rect x="219.05" y="262.3" width="8.7" height="4.2" fill="url(#gu)" fill-opacity="0.73" filter="url(#bl)"/>
<rect x="218.75" y="264.8" width="9.3" height="7" rx="2" fill="#b4b4b4" filter="url(#bl2)"/>
<rect x="218.75" y="266" width="9.3" height="4.6" rx="1.2" fill="#050505" filter="url(#bl)"/>
<rect x="218.75" y="279.2" width="9.3" height="5.6" rx="2" fill="#c0c0c0" filter="url(#bl2)"/>
<rect x="218.75" y="280.4" width="9.3" height="3.2" rx="1.2" fill="#2e2e2e" filter="url(#bl)"/>
<rect x="229.5" y="240.5" width="8.7" height="4" fill="url(#gd)" fill-opacity="0.4" filter="url(#bl)"/>
<rect x="229.2" y="236.2" width="9.3" height="6" rx="2" fill="#bbbbbb" filter="url(#bl2)"/>
<rect x="229.2" y="237.4" width="9.3" height="3.6" rx="1.2" fill="#1c1c1c" filter="url(#bl3)"/>
<rect x="229.2" y="249.9" width="9.3" height="5.8" rx="2" fill="#bababa" filter="url(#bl2)"/>
<rect x="229.2" y="251.1" width="9.3" height="3.4" rx="1.2" fill="#191919" filter="url(#bl)"/>
<rect x="229.5" y="262.3" width="8.7" height="4.2" fill="url(#gu)" fill-opacity="0.72" filter="url(#bl)"/>
<rect x="229.2" y="264.8" width="9.3" height="7" rx="2" fill="#b6b6b6" filter="url(#bl2)"/>
<rect x="229.2" y="266" width="9.3" height="4.6" rx="1.2" fill="#0a0a0a" filter="url(#bl)"/>
<rect x="229.2" y="279.8" width="9.3" height="5.6" rx="2" fill="#bebebe" filter="url(#bl2)"/>
<rect x="229.2" y="281" width="9.3" height="3.2" rx="1.2" fill="#262626" filter="url(#bl)"/>
<rect x="239.95" y="240.5" width="8.7" height="4" fill="url(#gd)" fill-opacity="0.1" filter="url(#bl)"/>
<rect x="239.65" y="236.2" width="9.3" height="6" rx="2" fill="#eeeeee" filter="url(#bl2)"/>
<rect x="239.65" y="237.4" width="9.3" height="3.6" rx="1.2" fill="#c7c7c7" filter="url(#bl3)"/>
<rect x="239.65" y="249" width="9.3" height="5.8" rx="2" fill="#b6b6b6" filter="url(#bl2)"/>
<rect x="239.65" y="250.2" width="9.3" height="3.4" rx="1.2" fill="#0a0a0a" filter="url(#bl)"/>
<rect x="239.95" y="262.3" width="8.7" height="4.2" fill="url(#gu)" fill-opacity="0.55" filter="url(#bl)"/>
<rect x="239.65" y="264.8" width="9.3" height="7" rx="2" fill="#c6c6c6" filter="url(#bl2)"/>
<rect x="239.65" y="266" width="9.3" height="4.6" rx="1.2" fill="#424242" filter="url(#bl)"/>
<rect x="239.65" y="279.8" width="9.3" height="5.6" rx="2" fill="#c0c0c0" filter="url(#bl2)"/>
<rect x="239.65" y="281" width="9.3" height="3.2" rx="1.2" fill="#2e2e2e" filter="url(#bl)"/>
<rect x="250.4" y="240.5" width="8.7" height="4" fill="url(#gd)" fill-opacity="0.1" filter="url(#bl)"/>
<rect x="250.1" y="236.2" width="9.3" height="6" rx="2" fill="#eeeeee" filter="url(#bl2)"/>
<rect x="250.1" y="237.4" width="9.3" height="3.6" rx="1.2" fill="#c7c7c7" filter="url(#bl3)"/>
<rect x="250.1" y="249" width="9.3" height="5.8" rx="2" fill="#b6b6b6" filter="url(#bl2)"/>
<rect x="250.1" y="250.2" width="9.3" height="3.4" rx="1.2" fill="#0a0a0a" filter="url(#bl)"/>
<rect x="250.4" y="262.3" width="8.7" height="4.2" fill="url(#gu)" fill-opacity="0.64" filter="url(#bl)"/>
<rect x="250.1" y="264.8" width="9.3" height="7" rx="2" fill="#bebebe" filter="url(#bl2)"/>
<rect x="250.1" y="266" width="9.3" height="4.6" rx="1.2" fill="#262626" filter="url(#bl)"/>
<rect x="250.1" y="279.8" width="9.3" height="5.6" rx="2" fill="#bcbcbc" filter="url(#bl2)"/>
<rect x="250.1" y="281" width="9.3" height="3.2" rx="1.2" fill="#1f1f1f" filter="url(#bl)"/>
<rect x="260.85" y="240.5" width="8.7" height="4" fill="url(#gd)" fill-opacity="0.21" filter="url(#bl)"/>
<rect x="260.55" y="236.2" width="9.3" height="6" rx="2" fill="#dbdbdb" filter="url(#bl2)"/>
<rect x="260.55" y="237.4" width="9.3" height="3.6" rx="1.2" fill="#878787" filter="url(#bl3)"/>
<rect x="260.55" y="249" width="9.3" height="5.8" rx="2" fill="#b6b6b6" filter="url(#bl2)"/>
<rect x="260.55" y="250.2" width="9.3" height="3.4" rx="1.2" fill="#0a0a0a" filter="url(#bl)"/>
<rect x="260.85" y="262.3" width="8.7" height="4.2" fill="url(#gu)" fill-opacity="0.61" filter="url(#bl)"/>
<rect x="260.55" y="264.8" width="9.3" height="7" rx="2" fill="#c0c0c0" filter="url(#bl2)"/>
<rect x="260.55" y="266" width="9.3" height="4.6" rx="1.2" fill="#2e2e2e" filter="url(#bl)"/>
<rect x="260.55" y="279.8" width="9.3" height="5.6" rx="2" fill="#bebebe" filter="url(#bl2)"/>
<rect x="260.55" y="281" width="9.3" height="3.2" rx="1.2" fill="#262626" filter="url(#bl)"/>
<rect x="271.3" y="240.5" width="8.7" height="4" fill="url(#gd)" fill-opacity="0.35" filter="url(#bl)"/>
<rect x="271" y="236.2" width="9.3" height="6" rx="2" fill="#c4c4c4" filter="url(#bl2)"/>
<rect x="271" y="237.4" width="9.3" height="3.6" rx="1.2" fill="#3b3b3b" filter="url(#bl3)"/>
<rect x="271" y="249" width="9.3" height="5.8" rx="2" fill="#b9b9b9" filter="url(#bl2)"/>
<rect x="271" y="250.2" width="9.3" height="3.4" rx="1.2" fill="#141414" filter="url(#bl)"/>
<rect x="271.3" y="262.3" width="8.7" height="4.2" fill="url(#gu)" fill-opacity="0.72" filter="url(#bl)"/>
<rect x="271" y="264.8" width="9.3" height="7" rx="2" fill="#b6b6b6" filter="url(#bl2)"/>
<rect x="271" y="266" width="9.3" height="4.6" rx="1.2" fill="#0a0a0a" filter="url(#bl)"/>
<rect x="271" y="279.8" width="9.3" height="5.6" rx="2" fill="#c0c0c0" filter="url(#bl2)"/>
<rect x="271" y="281" width="9.3" height="3.2" rx="1.2" fill="#2e2e2e" filter="url(#bl)"/>
<rect x="281.75" y="240.5" width="8.7" height="4" fill="url(#gd)" fill-opacity="0.37" filter="url(#bl)"/>
<rect x="281.45" y="236.2" width="9.3" height="6" rx="2" fill="#c0c0c0" filter="url(#bl2)"/>
<rect x="281.45" y="237.4" width="9.3" height="3.6" rx="1.2" fill="#2e2e2e" filter="url(#bl3)"/>
<rect x="281.45" y="249" width="9.3" height="5.8" rx="2" fill="#b9b9b9" filter="url(#bl2)"/>
<rect x="281.45" y="250.2" width="9.3" height="3.4" rx="1.2" fill="#141414" filter="url(#bl)"/>
<rect x="281.75" y="262.3" width="8.7" height="4.2" fill="url(#gu)" fill-opacity="0.75" filter="url(#bl)"/>
<rect x="281.45" y="264.8" width="9.3" height="7" rx="2" fill="#b2b2b2" filter="url(#bl2)"/>
<rect x="281.45" y="266" width="9.3" height="4.6" rx="1.2" fill="#000000" filter="url(#bl)"/>
<rect x="281.45" y="279.8" width="9.3" height="5.6" rx="2" fill="#c0c0c0" filter="url(#bl2)"/>
<rect x="281.45" y="281" width="9.3" height="3.2" rx="1.2" fill="#2e2e2e" filter="url(#bl)"/>
<rect x="292.2" y="240.5" width="8.7" height="4" fill="url(#gd)" fill-opacity="0.26" filter="url(#bl)"/>
<rect x="291.9" y="236.2" width="9.3" height="6" rx="2" fill="#d3d3d3" filter="url(#bl2)"/>
<rect x="291.9" y="237.4" width="9.3" height="3.6" rx="1.2" fill="#6e6e6e" filter="url(#bl3)"/>
<rect x="291.9" y="249" width="9.3" height="5.8" rx="2" fill="#bababa" filter="url(#bl2)"/>
<rect x="291.9" y="250.2" width="9.3" height="3.4" rx="1.2" fill="#191919" filter="url(#bl)"/>
<rect x="292.2" y="262.3" width="8.7" height="4.2" fill="url(#gu)" fill-opacity="0.68" filter="url(#bl)"/>
<rect x="291.9" y="264.8" width="9.3" height="7" rx="2" fill="#bababa" filter="url(#bl2)"/>
<rect x="291.9" y="266" width="9.3" height="4.6" rx="1.2" fill="#191919" filter="url(#bl)"/>
<rect x="291.9" y="279.8" width="9.3" height="5.6" rx="2" fill="#c0c0c0" filter="url(#bl2)"/>
<rect x="291.9" y="281" width="9.3" height="3.2" rx="1.2" fill="#2e2e2e" filter="url(#bl)"/>
<rect x="302.65" y="240.5" width="8.7" height="4" fill="url(#gd)" fill-opacity="0.3" filter="url(#bl)"/>
<rect x="302.35" y="236.2" width="9.3" height="6" rx="2" fill="#cccccc" filter="url(#bl2)"/>
<rect x="302.35" y="237.4" width="9.3" height="3.6" rx="1.2" fill="#545454" filter="url(#bl3)"/>
<rect x="302.35" y="249" width="9.3" height="5.8" rx="2" fill="#bababa" filter="url(#bl2)"/>
<rect x="302.35" y="250.2" width="9.3" height="3.4" rx="1.2" fill="#191919" filter="url(#bl)"/>
<rect x="302.65" y="262.3" width="8.7" height="4.2" fill="url(#gu)" fill-opacity="0.68" filter="url(#bl)"/>
<rect x="302.35" y="264.8" width="9.3" height="7" rx="2" fill="#bababa" filter="url(#bl2)"/>
<rect x="302.35" y="266" width="9.3" height="4.6" rx="1.2" fill="#191919" filter="url(#bl)"/>
<rect x="302.35" y="279.8" width="9.3" height="5.6" rx="2" fill="#bebebe" filter="url(#bl2)"/>
<rect x="302.35" y="281" width="9.3" height="3.2" rx="1.2" fill="#262626" filter="url(#bl)"/>
<rect x="313.1" y="240.5" width="8.7" height="4" fill="url(#gd)" fill-opacity="0.38" filter="url(#bl)"/>
<rect x="312.8" y="236.2" width="9.3" height="6" rx="2" fill="#bebebe" filter="url(#bl2)"/>
<rect x="312.8" y="237.4" width="9.3" height="3.6" rx="1.2" fill="#262626" filter="url(#bl3)"/>
<rect x="312.8" y="249" width="9.3" height="5.8" rx="2" fill="#bcbcbc" filter="url(#bl2)"/>
<rect x="312.8" y="250.2" width="9.3" height="3.4" rx="1.2" fill="#1f1f1f" filter="url(#bl)"/>
<rect x="313.1" y="262.3" width="8.7" height="4.2" fill="url(#gu)" fill-opacity="0.68" filter="url(#bl)"/>
<rect x="312.8" y="264.8" width="9.3" height="7" rx="2" fill="#bababa" filter="url(#bl2)"/>
<rect x="312.8" y="266" width="9.3" height="4.6" rx="1.2" fill="#191919" filter="url(#bl)"/>
<rect x="312.8" y="279.8" width="9.3" height="5.6" rx="2" fill="#bcbcbc" filter="url(#bl2)"/>
<rect x="312.8" y="281" width="9.3" height="3.2" rx="1.2" fill="#1f1f1f" filter="url(#bl)"/>
<rect x="323.55" y="240.5" width="8.7" height="4" fill="url(#gd)" fill-opacity="0.21" filter="url(#bl)"/>
<rect x="323.25" y="236.2" width="9.3" height="6" rx="2" fill="#dbdbdb" filter="url(#bl2)"/>
<rect x="323.25" y="237.4" width="9.3" height="3.6" rx="1.2" fill="#878787" filter="url(#bl3)"/>
<rect x="323.25" y="249" width="9.3" height="5.8" rx="2" fill="#bcbcbc" filter="url(#bl2)"/>
<rect x="323.25" y="250.2" width="9.3" height="3.4" rx="1.2" fill="#1f1f1f" filter="url(#bl)"/>
<rect x="323.55" y="262.3" width="8.7" height="4.2" fill="url(#gu)" fill-opacity="0.6" filter="url(#bl)"/>
<rect x="323.25" y="264.8" width="9.3" height="7" rx="2" fill="#c2c2c2" filter="url(#bl2)"/>
<rect x="323.25" y="266" width="9.3" height="4.6" rx="1.2" fill="#333333" filter="url(#bl)"/>
<rect x="323.25" y="279.8" width="9.3" height="5.6" rx="2" fill="#bcbcbc" filter="url(#bl2)"/>
<rect x="323.25" y="281" width="9.3" height="3.2" rx="1.2" fill="#1f1f1f" filter="url(#bl)"/>
<rect x="335.85" y="240.5" width="8.7" height="4" fill="url(#gd)" fill-opacity="0.36" filter="url(#bl)"/>
<rect x="335.55" y="236.2" width="9.3" height="6" rx="2" fill="#c2c2c2" filter="url(#bl2)"/>
<rect x="335.55" y="237.4" width="9.3" height="3.6" rx="1.2" fill="#333333" filter="url(#bl3)"/>
<rect x="335.55" y="250.8" width="9.3" height="5.8" rx="2" fill="#b6b6b6" filter="url(#bl2)"/>
<rect x="335.55" y="252" width="9.3" height="3.4" rx="1.2" fill="#0a0a0a" filter="url(#bl)"/>
<rect x="335.85" y="263" width="8.7" height="4.2" fill="url(#gu)" fill-opacity="0.45" filter="url(#bl)"/>
<rect x="335.55" y="265.5" width="9.3" height="7" rx="2" fill="#d1d1d1" filter="url(#bl2)"/>
<rect x="335.55" y="266.7" width="9.3" height="4.6" rx="1.2" fill="#666666" filter="url(#bl)"/>
<rect x="335.55" y="279.5" width="9.3" height="5.6" rx="2" fill="#bababa" filter="url(#bl2)"/>
<rect x="335.55" y="280.7" width="9.3" height="3.2" rx="1.2" fill="#191919" filter="url(#bl)"/>
<rect x="346.25" y="240.5" width="8.7" height="4" fill="url(#gd)" fill-opacity="0.33" filter="url(#bl)"/>
<rect x="345.95" y="236.2" width="9.3" height="6" rx="2" fill="#c6c6c6" filter="url(#bl2)"/>
<rect x="345.95" y="237.4" width="9.3" height="3.6" rx="1.2" fill="#424242" filter="url(#bl3)"/>
<rect x="345.95" y="250.8" width="9.3" height="5.8" rx="2" fill="#b6b6b6" filter="url(#bl2)"/>
<rect x="345.95" y="252" width="9.3" height="3.4" rx="1.2" fill="#0a0a0a" filter="url(#bl)"/>
<rect x="346.25" y="263" width="8.7" height="4.2" fill="url(#gu)" fill-opacity="0.49" filter="url(#bl)"/>
<rect x="345.95" y="265.5" width="9.3" height="7" rx="2" fill="#cdcdcd" filter="url(#bl2)"/>
<rect x="345.95" y="266.7" width="9.3" height="4.6" rx="1.2" fill="#575757" filter="url(#bl)"/>
<rect x="345.95" y="279.5" width="9.3" height="5.6" rx="2" fill="#b9b9b9" filter="url(#bl2)"/>
<rect x="345.95" y="280.7" width="9.3" height="3.2" rx="1.2" fill="#141414" filter="url(#bl)"/>
<rect x="356.65" y="240.5" width="8.7" height="4" fill="url(#gd)" fill-opacity="0.18" filter="url(#bl)"/>
<rect x="356.35" y="236.2" width="9.3" height="6" rx="2" fill="#e0e0e0" filter="url(#bl2)"/>
<rect x="356.35" y="237.4" width="9.3" height="3.6" rx="1.2" fill="#999999" filter="url(#bl3)"/>
<rect x="356.35" y="250.8" width="9.3" height="5.8" rx="2" fill="#b6b6b6" filter="url(#bl2)"/>
<rect x="356.35" y="252" width="9.3" height="3.4" rx="1.2" fill="#0a0a0a" filter="url(#bl)"/>
<rect x="356.65" y="263" width="8.7" height="4.2" fill="url(#gu)" fill-opacity="0.24" filter="url(#bl)"/>
<rect x="356.35" y="265.5" width="9.3" height="7" rx="2" fill="#e7e7e7" filter="url(#bl2)"/>
<rect x="356.35" y="266.7" width="9.3" height="4.6" rx="1.2" fill="#adadad" filter="url(#bl)"/>
<rect x="356.35" y="280.3" width="9.3" height="5.6" rx="2" fill="#bcbcbc" filter="url(#bl2)"/>
<rect x="356.35" y="281.5" width="9.3" height="3.2" rx="1.2" fill="#1f1f1f" filter="url(#bl)"/>
<rect x="367.05" y="240.5" width="8.7" height="4" fill="url(#gd)" fill-opacity="0.3" filter="url(#bl)"/>
<rect x="366.75" y="236.2" width="9.3" height="6" rx="2" fill="#cccccc" filter="url(#bl2)"/>
<rect x="366.75" y="237.4" width="9.3" height="3.6" rx="1.2" fill="#545454" filter="url(#bl3)"/>
<rect x="366.75" y="250.8" width="9.3" height="5.8" rx="2" fill="#b7b7b7" filter="url(#bl2)"/>
<rect x="366.75" y="252" width="9.3" height="3.4" rx="1.2" fill="#0f0f0f" filter="url(#bl)"/>
<rect x="367.05" y="263" width="8.7" height="4.2" fill="url(#gu)" fill-opacity="0.32" filter="url(#bl)"/>
<rect x="366.75" y="265.5" width="9.3" height="7" rx="2" fill="#dfdfdf" filter="url(#bl2)"/>
<rect x="366.75" y="266.7" width="9.3" height="4.6" rx="1.2" fill="#949494" filter="url(#bl)"/>
<rect x="366.75" y="281.1" width="9.3" height="5.6" rx="2" fill="#bcbcbc" filter="url(#bl2)"/>
<rect x="366.75" y="282.3" width="9.3" height="3.2" rx="1.2" fill="#1f1f1f" filter="url(#bl)"/>
<rect x="377.45" y="240.5" width="8.7" height="4" fill="url(#gd)" fill-opacity="0.21" filter="url(#bl)"/>
<rect x="377.15" y="236.2" width="9.3" height="6" rx="2" fill="#dbdbdb" filter="url(#bl2)"/>
<rect x="377.15" y="237.4" width="9.3" height="3.6" rx="1.2" fill="#878787" filter="url(#bl3)"/>
<rect x="377.15" y="250.8" width="9.3" height="5.8" rx="2" fill="#b6b6b6" filter="url(#bl2)"/>
<rect x="377.15" y="252" width="9.3" height="3.4" rx="1.2" fill="#0a0a0a" filter="url(#bl)"/>
<rect x="377.45" y="264" width="8.7" height="4.2" fill="url(#gu)" fill-opacity="0.56" filter="url(#bl)"/>
<rect x="377.15" y="266.5" width="9.3" height="7" rx="2" fill="#c6c6c6" filter="url(#bl2)"/>
<rect x="377.15" y="267.7" width="9.3" height="4.6" rx="1.2" fill="#404040" filter="url(#bl)"/>
<rect x="377.15" y="282" width="9.3" height="5.6" rx="2" fill="#b9b9b9" filter="url(#bl2)"/>
<rect x="377.15" y="283.2" width="9.3" height="3.2" rx="1.2" fill="#141414" filter="url(#bl)"/>
<rect x="387.85" y="240.5" width="8.7" height="4" fill="url(#gd)" fill-opacity="0.33" filter="url(#bl)"/>
<rect x="387.55" y="236.2" width="9.3" height="6" rx="2" fill="#c6c6c6" filter="url(#bl2)"/>
<rect x="387.55" y="237.4" width="9.3" height="3.6" rx="1.2" fill="#424242" filter="url(#bl3)"/>
<rect x="387.55" y="250.8" width="9.3" height="5.8" rx="2" fill="#b5b5b5" filter="url(#bl2)"/>
<rect x="387.55" y="252" width="9.3" height="3.4" rx="1.2" fill="#080808" filter="url(#bl)"/>
<rect x="387.85" y="264" width="8.7" height="4.2" fill="url(#gu)" fill-opacity="0.6" filter="url(#bl)"/>
<rect x="387.55" y="266.5" width="9.3" height="7" rx="2" fill="#c2c2c2" filter="url(#bl2)"/>
<rect x="387.55" y="267.7" width="9.3" height="4.6" rx="1.2" fill="#333333" filter="url(#bl)"/>
<rect x="387.55" y="282" width="9.3" height="5.6" rx="2" fill="#b9b9b9" filter="url(#bl2)"/>
<rect x="387.55" y="283.2" width="9.3" height="3.2" rx="1.2" fill="#141414" filter="url(#bl)"/>
<rect x="398.25" y="240.5" width="8.7" height="4" fill="url(#gd)" fill-opacity="0.17" filter="url(#bl)"/>
<rect x="397.95" y="236.2" width="9.3" height="6" rx="2" fill="#e3e3e3" filter="url(#bl2)"/>
<rect x="397.95" y="237.4" width="9.3" height="3.6" rx="1.2" fill="#a1a1a1" filter="url(#bl3)"/>
<rect x="397.95" y="250.8" width="9.3" height="5.8" rx="2" fill="#b5b5b5" filter="url(#bl2)"/>
<rect x="397.95" y="252" width="9.3" height="3.4" rx="1.2" fill="#080808" filter="url(#bl)"/>
<rect x="398.25" y="264" width="8.7" height="4.2" fill="url(#gu)" fill-opacity="0.46" filter="url(#bl)"/>
<rect x="397.95" y="266.5" width="9.3" height="7" rx="2" fill="#d0d0d0" filter="url(#bl2)"/>
<rect x="397.95" y="267.7" width="9.3" height="4.6" rx="1.2" fill="#616161" filter="url(#bl)"/>
<rect x="397.95" y="282" width="9.3" height="5.6" rx="2" fill="#bababa" filter="url(#bl2)"/>
<rect x="397.95" y="283.2" width="9.3" height="3.2" rx="1.2" fill="#191919" filter="url(#bl)"/>
<rect x="408.65" y="240.5" width="8.7" height="4" fill="url(#gd)" fill-opacity="0.39" filter="url(#bl)"/>
<rect x="408.35" y="236.2" width="9.3" height="6" rx="2" fill="#bcbcbc" filter="url(#bl2)"/>
<rect x="408.35" y="237.4" width="9.3" height="3.6" rx="1.2" fill="#212121" filter="url(#bl3)"/>
<rect x="408.35" y="250.8" width="9.3" height="5.8" rx="2" fill="#b6b6b6" filter="url(#bl2)"/>
<rect x="408.35" y="252" width="9.3" height="3.4" rx="1.2" fill="#0a0a0a" filter="url(#bl)"/>
<rect x="408.65" y="264" width="8.7" height="4.2" fill="url(#gu)" fill-opacity="0.49" filter="url(#bl)"/>
<rect x="408.35" y="266.5" width="9.3" height="7" rx="2" fill="#cdcdcd" filter="url(#bl2)"/>
<rect x="408.35" y="267.7" width="9.3" height="4.6" rx="1.2" fill="#575757" filter="url(#bl)"/>
<rect x="408.35" y="282" width="9.3" height="5.6" rx="2" fill="#bababa" filter="url(#bl2)"/>
<rect x="408.35" y="283.2" width="9.3" height="3.2" rx="1.2" fill="#191919" filter="url(#bl)"/>
<rect x="419.05" y="240.5" width="8.7" height="4" fill="url(#gd)" fill-opacity="0.25" filter="url(#bl)"/>
<rect x="418.75" y="236.2" width="9.3" height="6" rx="2" fill="#d5d5d5" filter="url(#bl2)"/>
<rect x="418.75" y="237.4" width="9.3" height="3.6" rx="1.2" fill="#737373" filter="url(#bl3)"/>
<rect x="418.75" y="250.8" width="9.3" height="5.8" rx="2" fill="#b6b6b6" filter="url(#bl2)"/>
<rect x="418.75" y="252" width="9.3" height="3.4" rx="1.2" fill="#0a0a0a" filter="url(#bl)"/>
<rect x="419.05" y="264" width="8.7" height="4.2" fill="url(#gu)" fill-opacity="0.32" filter="url(#bl)"/>
<rect x="418.75" y="266.5" width="9.3" height="7" rx="2" fill="#dfdfdf" filter="url(#bl2)"/>
<rect x="418.75" y="267.7" width="9.3" height="4.6" rx="1.2" fill="#949494" filter="url(#bl)"/>
<rect x="418.75" y="282" width="9.3" height="5.6" rx="2" fill="#bababa" filter="url(#bl2)"/>
<rect x="418.75" y="283.2" width="9.3" height="3.2" rx="1.2" fill="#191919" filter="url(#bl)"/>
<rect x="429.45" y="240.5" width="8.7" height="4" fill="url(#gd)" fill-opacity="0.4" filter="url(#bl)"/>
<rect x="429.15" y="236.2" width="9.3" height="6" rx="2" fill="#bbbbbb" filter="url(#bl2)"/>
<rect x="429.15" y="237.4" width="9.3" height="3.6" rx="1.2" fill="#1c1c1c" filter="url(#bl3)"/>
<rect x="429.15" y="250.8" width="9.3" height="5.8" rx="2" fill="#b6b6b6" filter="url(#bl2)"/>
<rect x="429.15" y="252" width="9.3" height="3.4" rx="1.2" fill="#0a0a0a" filter="url(#bl)"/>
<rect x="429.45" y="264" width="8.7" height="4.2" fill="url(#gu)" fill-opacity="0.73" filter="url(#bl)"/>
<rect x="429.15" y="266.5" width="9.3" height="7" rx="2" fill="#b5b5b5" filter="url(#bl2)"/>
<rect x="429.15" y="267.7" width="9.3" height="4.6" rx="1.2" fill="#080808" filter="url(#bl)"/>
<rect x="429.15" y="282" width="9.3" height="5.6" rx="2" fill="#bababa" filter="url(#bl2)"/>
<rect x="429.15" y="283.2" width="9.3" height="3.2" rx="1.2" fill="#191919" filter="url(#bl)"/>
<rect x="439.85" y="240.5" width="8.7" height="4" fill="url(#gd)" fill-opacity="0.26" filter="url(#bl)"/>
<rect x="439.55" y="236.2" width="9.3" height="6" rx="2" fill="#d3d3d3" filter="url(#bl2)"/>
<rect x="439.55" y="237.4" width="9.3" height="3.6" rx="1.2" fill="#6e6e6e" filter="url(#bl3)"/>
<rect x="439.55" y="250.8" width="9.3" height="5.8" rx="2" fill="#b6b6b6" filter="url(#bl2)"/>
<rect x="439.55" y="252" width="9.3" height="3.4" rx="1.2" fill="#0a0a0a" filter="url(#bl)"/>
<rect x="439.85" y="264" width="8.7" height="4.2" fill="url(#gu)" fill-opacity="0.38" filter="url(#bl)"/>
<rect x="439.55" y="266.5" width="9.3" height="7" rx="2" fill="#d9d9d9" filter="url(#bl2)"/>
<rect x="439.55" y="267.7" width="9.3" height="4.6" rx="1.2" fill="#808080" filter="url(#bl)"/>
<rect x="439.55" y="282" width="9.3" height="5.6" rx="2" fill="#bababa" filter="url(#bl2)"/>
<rect x="439.55" y="283.2" width="9.3" height="3.2" rx="1.2" fill="#191919" filter="url(#bl)"/>
<rect x="450.25" y="240.5" width="8.7" height="4" fill="url(#gd)" fill-opacity="0.21" filter="url(#bl)"/>
<rect x="449.95" y="236.2" width="9.3" height="6" rx="2" fill="#dbdbdb" filter="url(#bl2)"/>
<rect x="449.95" y="237.4" width="9.3" height="3.6" rx="1.2" fill="#878787" filter="url(#bl3)"/>
<rect x="449.95" y="250.8" width="9.3" height="5.8" rx="2" fill="#b7b7b7" filter="url(#bl2)"/>
<rect x="449.95" y="252" width="9.3" height="3.4" rx="1.2" fill="#0f0f0f" filter="url(#bl)"/>
<rect x="450.25" y="264" width="8.7" height="4.2" fill="url(#gu)" fill-opacity="0.68" filter="url(#bl)"/>
<rect x="449.95" y="266.5" width="9.3" height="7" rx="2" fill="#bababa" filter="url(#bl2)"/>
<rect x="449.95" y="267.7" width="9.3" height="4.6" rx="1.2" fill="#191919" filter="url(#bl)"/>
<rect x="449.95" y="281.1" width="9.3" height="5.6" rx="2" fill="#b9b9b9" filter="url(#bl2)"/>
<rect x="449.95" y="282.3" width="9.3" height="3.2" rx="1.2" fill="#141414" filter="url(#bl)"/>
<line x1="335" y1="233.3" x2="335" y2="259.6" stroke="#444" stroke-width="0.9"/>
<text x="463.4" y="231.7" style="font-size:7.6px;" textLength="14.2" lengthAdjust="spacingAndGlyphs">kDa</text>
<line x1="460.9" y1="236.8" x2="463" y2="236.8" stroke="#2a2a2a" stroke-width="0.8"/>
<text x="466.5" y="239.5" style="font-size:6.9px;" textLength="9.2" lengthAdjust="spacingAndGlyphs">70</text>
<line x1="460.9" y1="244.6" x2="463" y2="244.6" stroke="#2a2a2a" stroke-width="0.8"/>
<text x="466.5" y="245.8" style="font-size:6.9px;" textLength="9.2" lengthAdjust="spacingAndGlyphs">50</text>
<line x1="460.9" y1="250" x2="463" y2="250" stroke="#2a2a2a" stroke-width="0.8"/>
<text x="466.5" y="252" style="font-size:6.9px;" textLength="9.2" lengthAdjust="spacingAndGlyphs">40</text>
<line x1="460.9" y1="256.9" x2="463" y2="256.9" stroke="#2a2a2a" stroke-width="0.8"/>
<text x="466.5" y="259.2" style="font-size:6.9px;" textLength="9.2" lengthAdjust="spacingAndGlyphs">35</text>
<line x1="460.9" y1="272.8" x2="463" y2="272.8" stroke="#2a2a2a" stroke-width="0.8"/>
<text x="466.5" y="275.4" style="font-size:6.9px;" textLength="13.3" lengthAdjust="spacingAndGlyphs">100</text>
<line x1="460.9" y1="279.6" x2="463" y2="279.6" stroke="#2a2a2a" stroke-width="0.8"/>
<text x="466.5" y="281.8" style="font-size:6.9px;" textLength="9.2" lengthAdjust="spacingAndGlyphs">40</text>
<line x1="460.9" y1="286.5" x2="463" y2="286.5" stroke="#2a2a2a" stroke-width="0.8"/>
<text x="466.5" y="288.3" style="font-size:6.9px;" textLength="9.2" lengthAdjust="spacingAndGlyphs">35</text>
</svg>
</body></html>
